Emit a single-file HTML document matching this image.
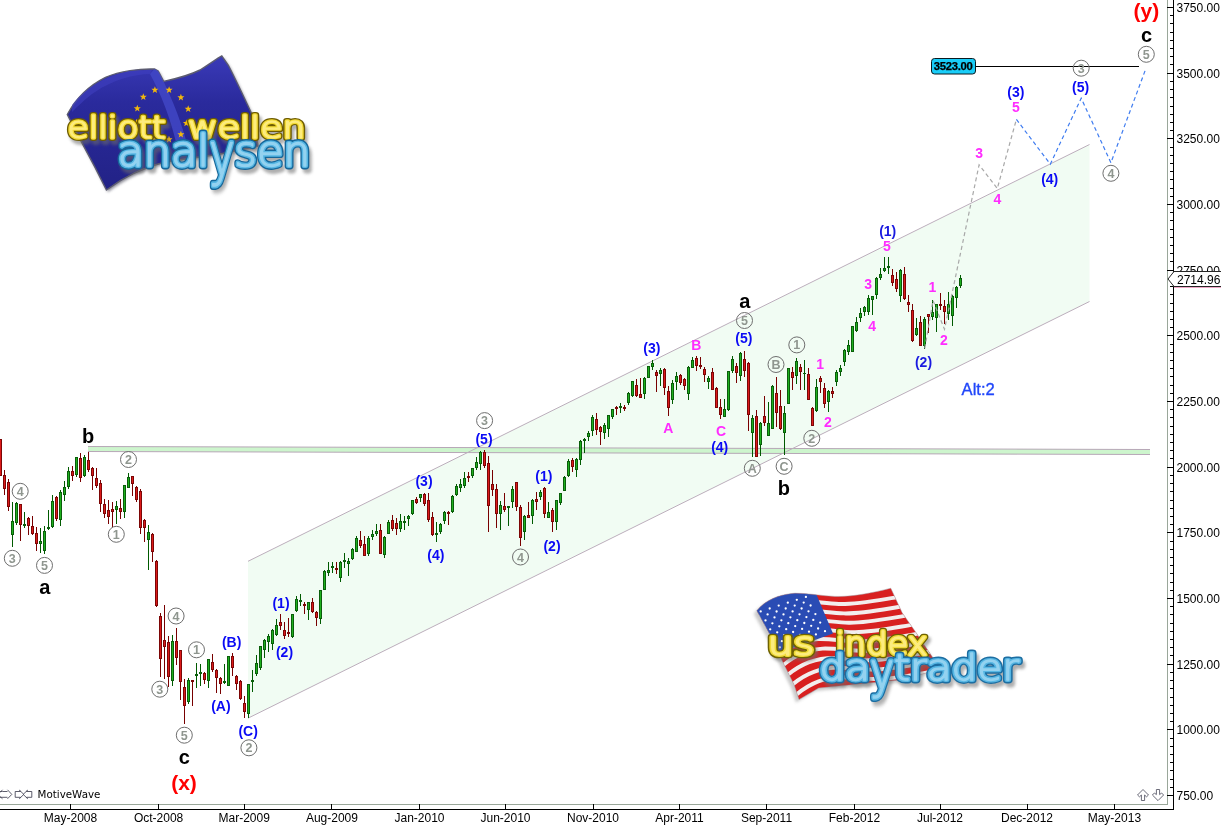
<!DOCTYPE html>
<html><head><meta charset="utf-8"><title>NDX Elliott Wave Chart</title>
<style>html,body{margin:0;padding:0;background:#fff;}body{width:1221px;height:825px;overflow:hidden;}svg{display:block;}</style>
</head><body>
<svg width="1221" height="825" viewBox="0 0 1221 825"><polygon points="248,561.3 1089.5,144.5 1089.5,301.5 248,718.2" fill="#f1fcf3"/>
<polygon points="88,446.5 1150,449.5 1150,454.5 88,451.5" fill="#cdf5cd"/>
<line x1="88" y1="446.5" x2="1150" y2="449.5" stroke="#b7a7b7" stroke-width="1"/>
<line x1="88" y1="451.5" x2="1150" y2="454.5" stroke="#b7a7b7" stroke-width="1"/>
<line x1="248" y1="561.3" x2="1089.5" y2="144.5" stroke="#bcaebc" stroke-width="1"/>
<line x1="248" y1="718.2" x2="1089.5" y2="301.5" stroke="#bcaebc" stroke-width="1"/>
<g shape-rendering="crispEdges"><rect x="0" y="439" width="1" height="37" fill="#780000"/><rect x="-1" y="439" width="3" height="37" fill="#7c0606"/><rect x="0" y="440" width="1" height="35" fill="#dc1a1a"/><rect x="4" y="470" width="1" height="25" fill="#780000"/><rect x="3" y="475" width="3" height="14" fill="#7c0606"/><rect x="4" y="476" width="1" height="12" fill="#dc1a1a"/><rect x="8" y="479" width="1" height="32" fill="#780000"/><rect x="7" y="482" width="3" height="25" fill="#7c0606"/><rect x="8" y="483" width="1" height="23" fill="#dc1a1a"/><rect x="12" y="502" width="1" height="45" fill="#005a00"/><rect x="11" y="521" width="3" height="14" fill="#0a5e0a"/><rect x="12" y="522" width="1" height="12" fill="#1eb01e"/><rect x="16" y="502" width="1" height="23" fill="#005a00"/><rect x="15" y="503" width="3" height="20" fill="#0a5e0a"/><rect x="16" y="504" width="1" height="18" fill="#1eb01e"/><rect x="20" y="504" width="1" height="37" fill="#780000"/><rect x="19" y="504" width="3" height="21" fill="#7c0606"/><rect x="20" y="505" width="1" height="19" fill="#dc1a1a"/><rect x="24" y="512" width="1" height="16" fill="#005a00"/><rect x="23" y="524" width="3" height="2" fill="#0a5e0a"/><rect x="28" y="517" width="1" height="18" fill="#780000"/><rect x="27" y="518" width="3" height="8" fill="#7c0606"/><rect x="28" y="519" width="1" height="6" fill="#dc1a1a"/><rect x="32" y="516" width="1" height="19" fill="#780000"/><rect x="31" y="526" width="3" height="8" fill="#7c0606"/><rect x="32" y="527" width="1" height="6" fill="#dc1a1a"/><rect x="36" y="527" width="1" height="24" fill="#780000"/><rect x="35" y="533" width="3" height="11" fill="#7c0606"/><rect x="36" y="534" width="1" height="9" fill="#dc1a1a"/><rect x="40" y="528" width="1" height="25" fill="#005a00"/><rect x="39" y="541" width="3" height="3" fill="#0a5e0a"/><rect x="40" y="542" width="1" height="1" fill="#1eb01e"/><rect x="44" y="526" width="1" height="28" fill="#005a00"/><rect x="43" y="531" width="3" height="20" fill="#0a5e0a"/><rect x="44" y="532" width="1" height="18" fill="#1eb01e"/><rect x="48" y="510" width="1" height="20" fill="#005a00"/><rect x="47" y="527" width="3" height="2" fill="#0a5e0a"/><rect x="52" y="495" width="1" height="33" fill="#005a00"/><rect x="51" y="501" width="3" height="26" fill="#0a5e0a"/><rect x="52" y="502" width="1" height="24" fill="#1eb01e"/><rect x="56" y="496" width="1" height="25" fill="#780000"/><rect x="55" y="497" width="3" height="22" fill="#7c0606"/><rect x="56" y="498" width="1" height="20" fill="#dc1a1a"/><rect x="60" y="490" width="1" height="36" fill="#005a00"/><rect x="59" y="492" width="3" height="28" fill="#0a5e0a"/><rect x="60" y="493" width="1" height="26" fill="#1eb01e"/><rect x="64" y="481" width="1" height="20" fill="#005a00"/><rect x="63" y="487" width="3" height="8" fill="#0a5e0a"/><rect x="64" y="488" width="1" height="6" fill="#1eb01e"/><rect x="68" y="467" width="1" height="22" fill="#005a00"/><rect x="67" y="471" width="3" height="16" fill="#0a5e0a"/><rect x="68" y="472" width="1" height="14" fill="#1eb01e"/><rect x="72" y="466" width="1" height="15" fill="#780000"/><rect x="71" y="471" width="3" height="5" fill="#7c0606"/><rect x="72" y="472" width="1" height="3" fill="#dc1a1a"/><rect x="76" y="457" width="1" height="20" fill="#005a00"/><rect x="75" y="457" width="3" height="18" fill="#0a5e0a"/><rect x="76" y="458" width="1" height="16" fill="#1eb01e"/><rect x="80" y="453" width="1" height="29" fill="#780000"/><rect x="79" y="458" width="3" height="20" fill="#7c0606"/><rect x="80" y="459" width="1" height="18" fill="#dc1a1a"/><rect x="84" y="455" width="1" height="22" fill="#005a00"/><rect x="83" y="457" width="3" height="19" fill="#0a5e0a"/><rect x="84" y="458" width="1" height="17" fill="#1eb01e"/><rect x="88" y="452" width="1" height="20" fill="#780000"/><rect x="87" y="460" width="3" height="10" fill="#7c0606"/><rect x="88" y="461" width="1" height="8" fill="#dc1a1a"/><rect x="92" y="467" width="1" height="23" fill="#780000"/><rect x="91" y="468" width="3" height="8" fill="#7c0606"/><rect x="92" y="469" width="1" height="6" fill="#dc1a1a"/><rect x="96" y="468" width="1" height="20" fill="#780000"/><rect x="95" y="478" width="3" height="8" fill="#7c0606"/><rect x="96" y="479" width="1" height="6" fill="#dc1a1a"/><rect x="100" y="480" width="1" height="32" fill="#780000"/><rect x="99" y="483" width="3" height="21" fill="#7c0606"/><rect x="100" y="484" width="1" height="19" fill="#dc1a1a"/><rect x="104" y="499" width="1" height="19" fill="#780000"/><rect x="103" y="504" width="3" height="10" fill="#7c0606"/><rect x="104" y="505" width="1" height="8" fill="#dc1a1a"/><rect x="108" y="500" width="1" height="24" fill="#780000"/><rect x="107" y="510" width="3" height="7" fill="#7c0606"/><rect x="108" y="511" width="1" height="5" fill="#dc1a1a"/><rect x="112" y="502" width="1" height="25" fill="#780000"/><rect x="111" y="509" width="3" height="3" fill="#7c0606"/><rect x="112" y="510" width="1" height="1" fill="#dc1a1a"/><rect x="116" y="501" width="1" height="23" fill="#005a00"/><rect x="115" y="506" width="3" height="4" fill="#0a5e0a"/><rect x="116" y="507" width="1" height="2" fill="#1eb01e"/><rect x="120" y="499" width="1" height="20" fill="#780000"/><rect x="119" y="508" width="3" height="4" fill="#7c0606"/><rect x="120" y="509" width="1" height="2" fill="#dc1a1a"/><rect x="124" y="485" width="1" height="33" fill="#005a00"/><rect x="123" y="485" width="3" height="27" fill="#0a5e0a"/><rect x="124" y="486" width="1" height="25" fill="#1eb01e"/><rect x="128" y="473" width="1" height="15" fill="#005a00"/><rect x="127" y="477" width="3" height="11" fill="#0a5e0a"/><rect x="128" y="478" width="1" height="9" fill="#1eb01e"/><rect x="132" y="476" width="1" height="20" fill="#780000"/><rect x="131" y="476" width="3" height="8" fill="#7c0606"/><rect x="132" y="477" width="1" height="6" fill="#dc1a1a"/><rect x="136" y="486" width="1" height="16" fill="#780000"/><rect x="135" y="487" width="3" height="13" fill="#7c0606"/><rect x="136" y="488" width="1" height="11" fill="#dc1a1a"/><rect x="140" y="489" width="1" height="45" fill="#780000"/><rect x="139" y="491" width="3" height="37" fill="#7c0606"/><rect x="140" y="492" width="1" height="35" fill="#dc1a1a"/><rect x="144" y="519" width="1" height="23" fill="#780000"/><rect x="143" y="520" width="3" height="8" fill="#7c0606"/><rect x="144" y="521" width="1" height="6" fill="#dc1a1a"/><rect x="148" y="525" width="1" height="45" fill="#005a00"/><rect x="147" y="532" width="3" height="8" fill="#0a5e0a"/><rect x="148" y="533" width="1" height="6" fill="#1eb01e"/><rect x="152" y="533" width="1" height="29" fill="#780000"/><rect x="151" y="534" width="3" height="18" fill="#7c0606"/><rect x="152" y="535" width="1" height="16" fill="#dc1a1a"/><rect x="156" y="560" width="1" height="47" fill="#780000"/><rect x="155" y="561" width="3" height="45" fill="#7c0606"/><rect x="156" y="562" width="1" height="43" fill="#dc1a1a"/><rect x="160" y="613" width="1" height="64" fill="#780000"/><rect x="159" y="616" width="3" height="43" fill="#7c0606"/><rect x="160" y="617" width="1" height="41" fill="#dc1a1a"/><rect x="164" y="605" width="1" height="74" fill="#780000"/><rect x="163" y="640" width="3" height="7" fill="#7c0606"/><rect x="164" y="641" width="1" height="5" fill="#dc1a1a"/><rect x="168" y="636" width="1" height="51" fill="#780000"/><rect x="167" y="642" width="3" height="35" fill="#7c0606"/><rect x="168" y="643" width="1" height="33" fill="#dc1a1a"/><rect x="172" y="635" width="1" height="51" fill="#005a00"/><rect x="171" y="641" width="3" height="40" fill="#0a5e0a"/><rect x="172" y="642" width="1" height="38" fill="#1eb01e"/><rect x="176" y="628" width="1" height="37" fill="#780000"/><rect x="175" y="641" width="3" height="17" fill="#7c0606"/><rect x="176" y="642" width="1" height="15" fill="#dc1a1a"/><rect x="180" y="650" width="1" height="50" fill="#780000"/><rect x="179" y="650" width="3" height="32" fill="#7c0606"/><rect x="180" y="651" width="1" height="30" fill="#dc1a1a"/><rect x="184" y="679" width="1" height="45" fill="#780000"/><rect x="183" y="687" width="3" height="19" fill="#7c0606"/><rect x="184" y="688" width="1" height="17" fill="#dc1a1a"/><rect x="188" y="678" width="1" height="26" fill="#005a00"/><rect x="187" y="680" width="3" height="22" fill="#0a5e0a"/><rect x="188" y="681" width="1" height="20" fill="#1eb01e"/><rect x="192" y="680" width="1" height="26" fill="#780000"/><rect x="191" y="680" width="3" height="2" fill="#7c0606"/><rect x="196" y="663" width="1" height="25" fill="#005a00"/><rect x="195" y="674" width="3" height="2" fill="#0a5e0a"/><rect x="200" y="664" width="1" height="22" fill="#005a00"/><rect x="199" y="672" width="3" height="2" fill="#0a5e0a"/><rect x="204" y="672" width="1" height="12" fill="#780000"/><rect x="203" y="673" width="3" height="7" fill="#7c0606"/><rect x="204" y="674" width="1" height="5" fill="#dc1a1a"/><rect x="208" y="659" width="1" height="29" fill="#005a00"/><rect x="207" y="659" width="3" height="22" fill="#0a5e0a"/><rect x="208" y="660" width="1" height="20" fill="#1eb01e"/><rect x="212" y="654" width="1" height="18" fill="#780000"/><rect x="211" y="662" width="3" height="8" fill="#7c0606"/><rect x="212" y="663" width="1" height="6" fill="#dc1a1a"/><rect x="216" y="669" width="1" height="24" fill="#780000"/><rect x="215" y="670" width="3" height="8" fill="#7c0606"/><rect x="216" y="671" width="1" height="6" fill="#dc1a1a"/><rect x="220" y="677" width="1" height="17" fill="#780000"/><rect x="219" y="678" width="3" height="6" fill="#7c0606"/><rect x="220" y="679" width="1" height="4" fill="#dc1a1a"/><rect x="224" y="664" width="1" height="20" fill="#005a00"/><rect x="223" y="681" width="3" height="2" fill="#0a5e0a"/><rect x="228" y="656" width="1" height="30" fill="#005a00"/><rect x="227" y="656" width="3" height="30" fill="#0a5e0a"/><rect x="228" y="657" width="1" height="28" fill="#1eb01e"/><rect x="232" y="653" width="1" height="23" fill="#780000"/><rect x="231" y="656" width="3" height="12" fill="#7c0606"/><rect x="232" y="657" width="1" height="10" fill="#dc1a1a"/><rect x="236" y="675" width="1" height="15" fill="#780000"/><rect x="235" y="676" width="3" height="8" fill="#7c0606"/><rect x="236" y="677" width="1" height="6" fill="#dc1a1a"/><rect x="240" y="680" width="1" height="20" fill="#780000"/><rect x="239" y="681" width="3" height="18" fill="#7c0606"/><rect x="240" y="682" width="1" height="16" fill="#dc1a1a"/><rect x="244" y="696" width="1" height="22" fill="#780000"/><rect x="243" y="703" width="3" height="9" fill="#7c0606"/><rect x="244" y="704" width="1" height="7" fill="#dc1a1a"/><rect x="248" y="684" width="1" height="34" fill="#005a00"/><rect x="247" y="684" width="3" height="30" fill="#0a5e0a"/><rect x="248" y="685" width="1" height="28" fill="#1eb01e"/><rect x="252" y="670" width="1" height="22" fill="#005a00"/><rect x="251" y="680" width="3" height="2" fill="#0a5e0a"/><rect x="256" y="655" width="1" height="21" fill="#005a00"/><rect x="255" y="663" width="3" height="11" fill="#0a5e0a"/><rect x="256" y="664" width="1" height="9" fill="#1eb01e"/><rect x="260" y="646" width="1" height="24" fill="#005a00"/><rect x="259" y="646" width="3" height="22" fill="#0a5e0a"/><rect x="260" y="647" width="1" height="20" fill="#1eb01e"/><rect x="264" y="639" width="1" height="19" fill="#005a00"/><rect x="263" y="640" width="3" height="10" fill="#0a5e0a"/><rect x="264" y="641" width="1" height="8" fill="#1eb01e"/><rect x="268" y="634" width="1" height="18" fill="#005a00"/><rect x="267" y="636" width="3" height="6" fill="#0a5e0a"/><rect x="268" y="637" width="1" height="4" fill="#1eb01e"/><rect x="272" y="629" width="1" height="21" fill="#005a00"/><rect x="271" y="630" width="3" height="14" fill="#0a5e0a"/><rect x="272" y="631" width="1" height="12" fill="#1eb01e"/><rect x="276" y="619" width="1" height="17" fill="#005a00"/><rect x="275" y="625" width="3" height="10" fill="#0a5e0a"/><rect x="276" y="626" width="1" height="8" fill="#1eb01e"/><rect x="280" y="614" width="1" height="16" fill="#780000"/><rect x="279" y="622" width="3" height="4" fill="#7c0606"/><rect x="280" y="623" width="1" height="2" fill="#dc1a1a"/><rect x="284" y="622" width="1" height="17" fill="#780000"/><rect x="283" y="630" width="3" height="6" fill="#7c0606"/><rect x="284" y="631" width="1" height="4" fill="#dc1a1a"/><rect x="288" y="618" width="1" height="19" fill="#780000"/><rect x="287" y="632" width="3" height="2" fill="#7c0606"/><rect x="292" y="614" width="1" height="24" fill="#005a00"/><rect x="291" y="614" width="3" height="23" fill="#0a5e0a"/><rect x="292" y="615" width="1" height="21" fill="#1eb01e"/><rect x="296" y="596" width="1" height="16" fill="#005a00"/><rect x="295" y="599" width="3" height="12" fill="#0a5e0a"/><rect x="296" y="600" width="1" height="10" fill="#1eb01e"/><rect x="300" y="594" width="1" height="12" fill="#005a00"/><rect x="299" y="600" width="3" height="2" fill="#0a5e0a"/><rect x="304" y="602" width="1" height="12" fill="#780000"/><rect x="303" y="604" width="3" height="2" fill="#7c0606"/><rect x="308" y="602" width="1" height="18" fill="#005a00"/><rect x="307" y="602" width="3" height="8" fill="#0a5e0a"/><rect x="308" y="603" width="1" height="6" fill="#1eb01e"/><rect x="312" y="598" width="1" height="15" fill="#780000"/><rect x="311" y="602" width="3" height="10" fill="#7c0606"/><rect x="312" y="603" width="1" height="8" fill="#dc1a1a"/><rect x="316" y="611" width="1" height="15" fill="#780000"/><rect x="315" y="612" width="3" height="6" fill="#7c0606"/><rect x="316" y="613" width="1" height="4" fill="#dc1a1a"/><rect x="320" y="590" width="1" height="34" fill="#005a00"/><rect x="319" y="590" width="3" height="29" fill="#0a5e0a"/><rect x="320" y="591" width="1" height="27" fill="#1eb01e"/><rect x="324" y="570" width="1" height="20" fill="#005a00"/><rect x="323" y="571" width="3" height="19" fill="#0a5e0a"/><rect x="324" y="572" width="1" height="17" fill="#1eb01e"/><rect x="328" y="562" width="1" height="14" fill="#005a00"/><rect x="327" y="570" width="3" height="3" fill="#0a5e0a"/><rect x="328" y="571" width="1" height="1" fill="#1eb01e"/><rect x="332" y="562" width="1" height="11" fill="#005a00"/><rect x="331" y="566" width="3" height="2" fill="#0a5e0a"/><rect x="336" y="562" width="1" height="12" fill="#780000"/><rect x="335" y="568" width="3" height="2" fill="#7c0606"/><rect x="340" y="561" width="1" height="21" fill="#005a00"/><rect x="339" y="562" width="3" height="16" fill="#0a5e0a"/><rect x="340" y="563" width="1" height="14" fill="#1eb01e"/><rect x="344" y="553" width="1" height="15" fill="#005a00"/><rect x="343" y="560" width="3" height="2" fill="#0a5e0a"/><rect x="348" y="558" width="1" height="18" fill="#005a00"/><rect x="347" y="561" width="3" height="3" fill="#0a5e0a"/><rect x="348" y="562" width="1" height="1" fill="#1eb01e"/><rect x="352" y="548" width="1" height="12" fill="#005a00"/><rect x="351" y="549" width="3" height="10" fill="#0a5e0a"/><rect x="352" y="550" width="1" height="8" fill="#1eb01e"/><rect x="356" y="536" width="1" height="16" fill="#005a00"/><rect x="355" y="538" width="3" height="14" fill="#0a5e0a"/><rect x="356" y="539" width="1" height="12" fill="#1eb01e"/><rect x="360" y="531" width="1" height="17" fill="#780000"/><rect x="359" y="540" width="3" height="6" fill="#7c0606"/><rect x="360" y="541" width="1" height="4" fill="#dc1a1a"/><rect x="364" y="536" width="1" height="20" fill="#780000"/><rect x="363" y="544" width="3" height="12" fill="#7c0606"/><rect x="364" y="545" width="1" height="10" fill="#dc1a1a"/><rect x="368" y="536" width="1" height="20" fill="#005a00"/><rect x="367" y="538" width="3" height="16" fill="#0a5e0a"/><rect x="368" y="539" width="1" height="14" fill="#1eb01e"/><rect x="372" y="530" width="1" height="10" fill="#005a00"/><rect x="371" y="534" width="3" height="3" fill="#0a5e0a"/><rect x="372" y="535" width="1" height="1" fill="#1eb01e"/><rect x="376" y="524" width="1" height="12" fill="#005a00"/><rect x="375" y="531" width="3" height="3" fill="#0a5e0a"/><rect x="376" y="532" width="1" height="1" fill="#1eb01e"/><rect x="380" y="524" width="1" height="30" fill="#780000"/><rect x="379" y="530" width="3" height="24" fill="#7c0606"/><rect x="380" y="531" width="1" height="22" fill="#dc1a1a"/><rect x="384" y="536" width="1" height="22" fill="#005a00"/><rect x="383" y="537" width="3" height="18" fill="#0a5e0a"/><rect x="384" y="538" width="1" height="16" fill="#1eb01e"/><rect x="388" y="520" width="1" height="14" fill="#005a00"/><rect x="387" y="522" width="3" height="12" fill="#0a5e0a"/><rect x="388" y="523" width="1" height="10" fill="#1eb01e"/><rect x="392" y="515" width="1" height="16" fill="#780000"/><rect x="391" y="520" width="3" height="9" fill="#7c0606"/><rect x="392" y="521" width="1" height="7" fill="#dc1a1a"/><rect x="396" y="518" width="1" height="17" fill="#780000"/><rect x="395" y="523" width="3" height="6" fill="#7c0606"/><rect x="396" y="524" width="1" height="4" fill="#dc1a1a"/><rect x="400" y="514" width="1" height="18" fill="#005a00"/><rect x="399" y="521" width="3" height="8" fill="#0a5e0a"/><rect x="400" y="522" width="1" height="6" fill="#1eb01e"/><rect x="404" y="516" width="1" height="14" fill="#005a00"/><rect x="403" y="521" width="3" height="2" fill="#0a5e0a"/><rect x="408" y="515" width="1" height="11" fill="#005a00"/><rect x="407" y="516" width="3" height="3" fill="#0a5e0a"/><rect x="408" y="517" width="1" height="1" fill="#1eb01e"/><rect x="412" y="500" width="1" height="15" fill="#005a00"/><rect x="411" y="500" width="3" height="14" fill="#0a5e0a"/><rect x="412" y="501" width="1" height="12" fill="#1eb01e"/><rect x="416" y="497" width="1" height="7" fill="#780000"/><rect x="415" y="499" width="3" height="4" fill="#7c0606"/><rect x="416" y="500" width="1" height="2" fill="#dc1a1a"/><rect x="420" y="494" width="1" height="8" fill="#005a00"/><rect x="419" y="494" width="3" height="4" fill="#0a5e0a"/><rect x="420" y="495" width="1" height="2" fill="#1eb01e"/><rect x="424" y="493" width="1" height="13" fill="#780000"/><rect x="423" y="494" width="3" height="10" fill="#7c0606"/><rect x="424" y="495" width="1" height="8" fill="#dc1a1a"/><rect x="428" y="493" width="1" height="29" fill="#780000"/><rect x="427" y="500" width="3" height="20" fill="#7c0606"/><rect x="428" y="501" width="1" height="18" fill="#dc1a1a"/><rect x="432" y="512" width="1" height="24" fill="#780000"/><rect x="431" y="517" width="3" height="18" fill="#7c0606"/><rect x="432" y="518" width="1" height="16" fill="#dc1a1a"/><rect x="436" y="522" width="1" height="20" fill="#005a00"/><rect x="435" y="533" width="3" height="2" fill="#0a5e0a"/><rect x="440" y="523" width="1" height="11" fill="#005a00"/><rect x="439" y="524" width="3" height="8" fill="#0a5e0a"/><rect x="440" y="525" width="1" height="6" fill="#1eb01e"/><rect x="444" y="511" width="1" height="13" fill="#005a00"/><rect x="443" y="512" width="3" height="9" fill="#0a5e0a"/><rect x="444" y="513" width="1" height="7" fill="#1eb01e"/><rect x="448" y="511" width="1" height="14" fill="#780000"/><rect x="447" y="512" width="3" height="2" fill="#7c0606"/><rect x="452" y="495" width="1" height="18" fill="#005a00"/><rect x="451" y="496" width="3" height="16" fill="#0a5e0a"/><rect x="452" y="497" width="1" height="14" fill="#1eb01e"/><rect x="456" y="484" width="1" height="12" fill="#005a00"/><rect x="455" y="486" width="3" height="9" fill="#0a5e0a"/><rect x="456" y="487" width="1" height="7" fill="#1eb01e"/><rect x="460" y="479" width="1" height="13" fill="#005a00"/><rect x="459" y="484" width="3" height="4" fill="#0a5e0a"/><rect x="460" y="485" width="1" height="2" fill="#1eb01e"/><rect x="464" y="472" width="1" height="16" fill="#005a00"/><rect x="463" y="478" width="3" height="8" fill="#0a5e0a"/><rect x="464" y="479" width="1" height="6" fill="#1eb01e"/><rect x="468" y="472" width="1" height="10" fill="#780000"/><rect x="467" y="476" width="3" height="2" fill="#7c0606"/><rect x="472" y="468" width="1" height="10" fill="#005a00"/><rect x="471" y="468" width="3" height="8" fill="#0a5e0a"/><rect x="472" y="469" width="1" height="6" fill="#1eb01e"/><rect x="476" y="457" width="1" height="13" fill="#005a00"/><rect x="475" y="462" width="3" height="6" fill="#0a5e0a"/><rect x="476" y="463" width="1" height="4" fill="#1eb01e"/><rect x="480" y="451" width="1" height="19" fill="#005a00"/><rect x="479" y="452" width="3" height="12" fill="#0a5e0a"/><rect x="480" y="453" width="1" height="10" fill="#1eb01e"/><rect x="484" y="450" width="1" height="18" fill="#780000"/><rect x="483" y="452" width="3" height="14" fill="#7c0606"/><rect x="484" y="453" width="1" height="12" fill="#dc1a1a"/><rect x="488" y="456" width="1" height="76" fill="#780000"/><rect x="487" y="463" width="3" height="43" fill="#7c0606"/><rect x="488" y="464" width="1" height="41" fill="#dc1a1a"/><rect x="492" y="470" width="1" height="26" fill="#780000"/><rect x="491" y="484" width="3" height="6" fill="#7c0606"/><rect x="492" y="485" width="1" height="4" fill="#dc1a1a"/><rect x="496" y="484" width="1" height="44" fill="#780000"/><rect x="495" y="489" width="3" height="25" fill="#7c0606"/><rect x="496" y="490" width="1" height="23" fill="#dc1a1a"/><rect x="500" y="501" width="1" height="29" fill="#005a00"/><rect x="499" y="505" width="3" height="9" fill="#0a5e0a"/><rect x="500" y="506" width="1" height="7" fill="#1eb01e"/><rect x="504" y="493" width="1" height="19" fill="#780000"/><rect x="503" y="506" width="3" height="4" fill="#7c0606"/><rect x="504" y="507" width="1" height="2" fill="#dc1a1a"/><rect x="508" y="506" width="1" height="20" fill="#005a00"/><rect x="507" y="506" width="3" height="2" fill="#0a5e0a"/><rect x="512" y="486" width="1" height="22" fill="#005a00"/><rect x="511" y="489" width="3" height="13" fill="#0a5e0a"/><rect x="512" y="490" width="1" height="11" fill="#1eb01e"/><rect x="516" y="482" width="1" height="29" fill="#780000"/><rect x="515" y="482" width="3" height="25" fill="#7c0606"/><rect x="516" y="483" width="1" height="23" fill="#dc1a1a"/><rect x="520" y="505" width="1" height="41" fill="#780000"/><rect x="519" y="507" width="3" height="31" fill="#7c0606"/><rect x="520" y="508" width="1" height="29" fill="#dc1a1a"/><rect x="524" y="515" width="1" height="25" fill="#005a00"/><rect x="523" y="516" width="3" height="16" fill="#0a5e0a"/><rect x="524" y="517" width="1" height="14" fill="#1eb01e"/><rect x="528" y="502" width="1" height="16" fill="#780000"/><rect x="527" y="515" width="3" height="3" fill="#7c0606"/><rect x="528" y="516" width="1" height="1" fill="#dc1a1a"/><rect x="532" y="499" width="1" height="25" fill="#005a00"/><rect x="531" y="500" width="3" height="16" fill="#0a5e0a"/><rect x="532" y="501" width="1" height="14" fill="#1eb01e"/><rect x="536" y="492" width="1" height="18" fill="#780000"/><rect x="535" y="499" width="3" height="3" fill="#7c0606"/><rect x="536" y="500" width="1" height="1" fill="#dc1a1a"/><rect x="540" y="490" width="1" height="10" fill="#005a00"/><rect x="539" y="492" width="3" height="5" fill="#0a5e0a"/><rect x="540" y="493" width="1" height="3" fill="#1eb01e"/><rect x="544" y="487" width="1" height="31" fill="#780000"/><rect x="543" y="488" width="3" height="26" fill="#7c0606"/><rect x="544" y="489" width="1" height="24" fill="#dc1a1a"/><rect x="548" y="502" width="1" height="16" fill="#005a00"/><rect x="547" y="512" width="3" height="6" fill="#0a5e0a"/><rect x="548" y="513" width="1" height="4" fill="#1eb01e"/><rect x="552" y="508" width="1" height="24" fill="#780000"/><rect x="551" y="510" width="3" height="12" fill="#7c0606"/><rect x="552" y="511" width="1" height="10" fill="#dc1a1a"/><rect x="556" y="500" width="1" height="30" fill="#005a00"/><rect x="555" y="500" width="3" height="22" fill="#0a5e0a"/><rect x="556" y="501" width="1" height="20" fill="#1eb01e"/><rect x="560" y="493" width="1" height="12" fill="#005a00"/><rect x="559" y="493" width="3" height="10" fill="#0a5e0a"/><rect x="560" y="494" width="1" height="8" fill="#1eb01e"/><rect x="564" y="476" width="1" height="15" fill="#005a00"/><rect x="563" y="477" width="3" height="14" fill="#0a5e0a"/><rect x="564" y="478" width="1" height="12" fill="#1eb01e"/><rect x="568" y="459" width="1" height="18" fill="#005a00"/><rect x="567" y="461" width="3" height="15" fill="#0a5e0a"/><rect x="568" y="462" width="1" height="13" fill="#1eb01e"/><rect x="572" y="458" width="1" height="14" fill="#780000"/><rect x="571" y="460" width="3" height="7" fill="#7c0606"/><rect x="572" y="461" width="1" height="5" fill="#dc1a1a"/><rect x="576" y="458" width="1" height="19" fill="#005a00"/><rect x="575" y="459" width="3" height="11" fill="#0a5e0a"/><rect x="576" y="460" width="1" height="9" fill="#1eb01e"/><rect x="580" y="440" width="1" height="25" fill="#005a00"/><rect x="579" y="441" width="3" height="19" fill="#0a5e0a"/><rect x="580" y="442" width="1" height="17" fill="#1eb01e"/><rect x="584" y="438" width="1" height="15" fill="#005a00"/><rect x="583" y="439" width="3" height="2" fill="#0a5e0a"/><rect x="588" y="431" width="1" height="10" fill="#005a00"/><rect x="587" y="433" width="3" height="4" fill="#0a5e0a"/><rect x="588" y="434" width="1" height="2" fill="#1eb01e"/><rect x="592" y="415" width="1" height="21" fill="#005a00"/><rect x="591" y="417" width="3" height="14" fill="#0a5e0a"/><rect x="592" y="418" width="1" height="12" fill="#1eb01e"/><rect x="596" y="413" width="1" height="22" fill="#780000"/><rect x="595" y="419" width="3" height="11" fill="#7c0606"/><rect x="596" y="420" width="1" height="9" fill="#dc1a1a"/><rect x="600" y="426" width="1" height="19" fill="#780000"/><rect x="599" y="427" width="3" height="5" fill="#7c0606"/><rect x="600" y="428" width="1" height="3" fill="#dc1a1a"/><rect x="604" y="423" width="1" height="16" fill="#005a00"/><rect x="603" y="425" width="3" height="8" fill="#0a5e0a"/><rect x="604" y="426" width="1" height="6" fill="#1eb01e"/><rect x="608" y="415" width="1" height="22" fill="#005a00"/><rect x="607" y="415" width="3" height="14" fill="#0a5e0a"/><rect x="608" y="416" width="1" height="12" fill="#1eb01e"/><rect x="612" y="409" width="1" height="10" fill="#005a00"/><rect x="611" y="409" width="3" height="8" fill="#0a5e0a"/><rect x="612" y="410" width="1" height="6" fill="#1eb01e"/><rect x="616" y="406" width="1" height="9" fill="#780000"/><rect x="615" y="407" width="3" height="2" fill="#7c0606"/><rect x="620" y="403" width="1" height="10" fill="#005a00"/><rect x="619" y="406" width="3" height="2" fill="#0a5e0a"/><rect x="624" y="405" width="1" height="6" fill="#780000"/><rect x="623" y="407" width="3" height="2" fill="#7c0606"/><rect x="628" y="392" width="1" height="13" fill="#005a00"/><rect x="627" y="393" width="3" height="10" fill="#0a5e0a"/><rect x="628" y="394" width="1" height="8" fill="#1eb01e"/><rect x="632" y="381" width="1" height="16" fill="#005a00"/><rect x="631" y="381" width="3" height="15" fill="#0a5e0a"/><rect x="632" y="382" width="1" height="13" fill="#1eb01e"/><rect x="636" y="379" width="1" height="18" fill="#780000"/><rect x="635" y="385" width="3" height="11" fill="#7c0606"/><rect x="636" y="386" width="1" height="9" fill="#dc1a1a"/><rect x="640" y="378" width="1" height="20" fill="#780000"/><rect x="639" y="394" width="3" height="4" fill="#7c0606"/><rect x="640" y="395" width="1" height="2" fill="#dc1a1a"/><rect x="644" y="377" width="1" height="22" fill="#005a00"/><rect x="643" y="378" width="3" height="16" fill="#0a5e0a"/><rect x="644" y="379" width="1" height="14" fill="#1eb01e"/><rect x="648" y="366" width="1" height="12" fill="#005a00"/><rect x="647" y="366" width="3" height="12" fill="#0a5e0a"/><rect x="648" y="367" width="1" height="10" fill="#1eb01e"/><rect x="652" y="360" width="1" height="10" fill="#005a00"/><rect x="651" y="363" width="3" height="4" fill="#0a5e0a"/><rect x="652" y="364" width="1" height="2" fill="#1eb01e"/><rect x="656" y="370" width="1" height="22" fill="#780000"/><rect x="655" y="372" width="3" height="4" fill="#7c0606"/><rect x="656" y="373" width="1" height="2" fill="#dc1a1a"/><rect x="660" y="368" width="1" height="18" fill="#005a00"/><rect x="659" y="370" width="3" height="4" fill="#0a5e0a"/><rect x="660" y="371" width="1" height="2" fill="#1eb01e"/><rect x="664" y="368" width="1" height="27" fill="#780000"/><rect x="663" y="369" width="3" height="19" fill="#7c0606"/><rect x="664" y="370" width="1" height="17" fill="#dc1a1a"/><rect x="668" y="386" width="1" height="30" fill="#780000"/><rect x="667" y="391" width="3" height="17" fill="#7c0606"/><rect x="668" y="392" width="1" height="15" fill="#dc1a1a"/><rect x="672" y="380" width="1" height="24" fill="#005a00"/><rect x="671" y="383" width="3" height="17" fill="#0a5e0a"/><rect x="672" y="384" width="1" height="15" fill="#1eb01e"/><rect x="676" y="372" width="1" height="18" fill="#005a00"/><rect x="675" y="376" width="3" height="6" fill="#0a5e0a"/><rect x="676" y="377" width="1" height="4" fill="#1eb01e"/><rect x="680" y="374" width="1" height="11" fill="#780000"/><rect x="679" y="375" width="3" height="8" fill="#7c0606"/><rect x="680" y="376" width="1" height="6" fill="#dc1a1a"/><rect x="684" y="378" width="1" height="12" fill="#780000"/><rect x="683" y="379" width="3" height="7" fill="#7c0606"/><rect x="684" y="380" width="1" height="5" fill="#dc1a1a"/><rect x="688" y="366" width="1" height="34" fill="#005a00"/><rect x="687" y="367" width="3" height="27" fill="#0a5e0a"/><rect x="688" y="368" width="1" height="25" fill="#1eb01e"/><rect x="692" y="357" width="1" height="11" fill="#005a00"/><rect x="691" y="360" width="3" height="8" fill="#0a5e0a"/><rect x="692" y="361" width="1" height="6" fill="#1eb01e"/><rect x="696" y="356" width="1" height="15" fill="#780000"/><rect x="695" y="358" width="3" height="8" fill="#7c0606"/><rect x="696" y="359" width="1" height="6" fill="#dc1a1a"/><rect x="700" y="357" width="1" height="12" fill="#780000"/><rect x="699" y="365" width="3" height="2" fill="#7c0606"/><rect x="704" y="367" width="1" height="15" fill="#780000"/><rect x="703" y="369" width="3" height="6" fill="#7c0606"/><rect x="704" y="370" width="1" height="4" fill="#dc1a1a"/><rect x="708" y="376" width="1" height="13" fill="#005a00"/><rect x="707" y="378" width="3" height="4" fill="#0a5e0a"/><rect x="708" y="379" width="1" height="2" fill="#1eb01e"/><rect x="712" y="368" width="1" height="22" fill="#780000"/><rect x="711" y="372" width="3" height="18" fill="#7c0606"/><rect x="712" y="373" width="1" height="16" fill="#dc1a1a"/><rect x="716" y="387" width="1" height="21" fill="#780000"/><rect x="715" y="388" width="3" height="20" fill="#7c0606"/><rect x="716" y="389" width="1" height="18" fill="#dc1a1a"/><rect x="720" y="399" width="1" height="20" fill="#780000"/><rect x="719" y="407" width="3" height="8" fill="#7c0606"/><rect x="720" y="408" width="1" height="6" fill="#dc1a1a"/><rect x="724" y="399" width="1" height="18" fill="#005a00"/><rect x="723" y="409" width="3" height="8" fill="#0a5e0a"/><rect x="724" y="410" width="1" height="6" fill="#1eb01e"/><rect x="728" y="371" width="1" height="40" fill="#005a00"/><rect x="727" y="371" width="3" height="39" fill="#0a5e0a"/><rect x="728" y="372" width="1" height="37" fill="#1eb01e"/><rect x="732" y="356" width="1" height="17" fill="#005a00"/><rect x="731" y="359" width="3" height="12" fill="#0a5e0a"/><rect x="732" y="360" width="1" height="10" fill="#1eb01e"/><rect x="736" y="363" width="1" height="20" fill="#780000"/><rect x="735" y="366" width="3" height="7" fill="#7c0606"/><rect x="736" y="367" width="1" height="5" fill="#dc1a1a"/><rect x="740" y="352" width="1" height="29" fill="#005a00"/><rect x="739" y="353" width="3" height="23" fill="#0a5e0a"/><rect x="740" y="354" width="1" height="21" fill="#1eb01e"/><rect x="744" y="351" width="1" height="26" fill="#780000"/><rect x="743" y="359" width="3" height="12" fill="#7c0606"/><rect x="744" y="360" width="1" height="10" fill="#dc1a1a"/><rect x="748" y="362" width="1" height="69" fill="#780000"/><rect x="747" y="363" width="3" height="52" fill="#7c0606"/><rect x="748" y="364" width="1" height="50" fill="#dc1a1a"/><rect x="752" y="415" width="1" height="42" fill="#005a00"/><rect x="751" y="418" width="3" height="15" fill="#0a5e0a"/><rect x="752" y="419" width="1" height="13" fill="#1eb01e"/><rect x="756" y="410" width="1" height="47" fill="#780000"/><rect x="755" y="416" width="3" height="41" fill="#7c0606"/><rect x="756" y="417" width="1" height="39" fill="#dc1a1a"/><rect x="760" y="422" width="1" height="34" fill="#005a00"/><rect x="759" y="423" width="3" height="22" fill="#0a5e0a"/><rect x="760" y="424" width="1" height="20" fill="#1eb01e"/><rect x="764" y="396" width="1" height="30" fill="#780000"/><rect x="763" y="416" width="3" height="7" fill="#7c0606"/><rect x="764" y="417" width="1" height="5" fill="#dc1a1a"/><rect x="768" y="402" width="1" height="34" fill="#005a00"/><rect x="767" y="423" width="3" height="13" fill="#0a5e0a"/><rect x="768" y="424" width="1" height="11" fill="#1eb01e"/><rect x="772" y="385" width="1" height="44" fill="#005a00"/><rect x="771" y="386" width="3" height="43" fill="#0a5e0a"/><rect x="772" y="387" width="1" height="41" fill="#1eb01e"/><rect x="776" y="377" width="1" height="50" fill="#780000"/><rect x="775" y="393" width="3" height="20" fill="#7c0606"/><rect x="776" y="394" width="1" height="18" fill="#dc1a1a"/><rect x="780" y="390" width="1" height="40" fill="#780000"/><rect x="779" y="406" width="3" height="23" fill="#7c0606"/><rect x="780" y="407" width="1" height="21" fill="#dc1a1a"/><rect x="784" y="406" width="1" height="49" fill="#005a00"/><rect x="783" y="413" width="3" height="20" fill="#0a5e0a"/><rect x="784" y="414" width="1" height="18" fill="#1eb01e"/><rect x="788" y="368" width="1" height="36" fill="#005a00"/><rect x="787" y="368" width="3" height="36" fill="#0a5e0a"/><rect x="788" y="369" width="1" height="34" fill="#1eb01e"/><rect x="792" y="367" width="1" height="23" fill="#780000"/><rect x="791" y="372" width="3" height="6" fill="#7c0606"/><rect x="792" y="373" width="1" height="4" fill="#dc1a1a"/><rect x="796" y="358" width="1" height="26" fill="#005a00"/><rect x="795" y="361" width="3" height="15" fill="#0a5e0a"/><rect x="796" y="362" width="1" height="13" fill="#1eb01e"/><rect x="800" y="364" width="1" height="26" fill="#780000"/><rect x="799" y="367" width="3" height="5" fill="#7c0606"/><rect x="800" y="368" width="1" height="3" fill="#dc1a1a"/><rect x="804" y="360" width="1" height="30" fill="#005a00"/><rect x="803" y="373" width="3" height="1" fill="#0a5e0a"/><rect x="808" y="368" width="1" height="32" fill="#780000"/><rect x="807" y="374" width="3" height="26" fill="#7c0606"/><rect x="808" y="375" width="1" height="24" fill="#dc1a1a"/><rect x="812" y="407" width="1" height="19" fill="#780000"/><rect x="811" y="408" width="3" height="18" fill="#7c0606"/><rect x="812" y="409" width="1" height="16" fill="#dc1a1a"/><rect x="816" y="379" width="1" height="33" fill="#005a00"/><rect x="815" y="387" width="3" height="24" fill="#0a5e0a"/><rect x="816" y="388" width="1" height="22" fill="#1eb01e"/><rect x="820" y="376" width="1" height="17" fill="#780000"/><rect x="819" y="378" width="3" height="4" fill="#7c0606"/><rect x="820" y="379" width="1" height="2" fill="#dc1a1a"/><rect x="824" y="383" width="1" height="25" fill="#780000"/><rect x="823" y="388" width="3" height="16" fill="#7c0606"/><rect x="824" y="389" width="1" height="14" fill="#dc1a1a"/><rect x="828" y="390" width="1" height="22" fill="#005a00"/><rect x="827" y="391" width="3" height="11" fill="#0a5e0a"/><rect x="828" y="392" width="1" height="9" fill="#1eb01e"/><rect x="832" y="387" width="1" height="11" fill="#780000"/><rect x="831" y="391" width="3" height="3" fill="#7c0606"/><rect x="832" y="392" width="1" height="1" fill="#dc1a1a"/><rect x="836" y="370" width="1" height="16" fill="#005a00"/><rect x="835" y="372" width="3" height="10" fill="#0a5e0a"/><rect x="836" y="373" width="1" height="8" fill="#1eb01e"/><rect x="840" y="365" width="1" height="11" fill="#005a00"/><rect x="839" y="368" width="3" height="4" fill="#0a5e0a"/><rect x="840" y="369" width="1" height="2" fill="#1eb01e"/><rect x="844" y="349" width="1" height="17" fill="#005a00"/><rect x="843" y="350" width="3" height="12" fill="#0a5e0a"/><rect x="844" y="351" width="1" height="10" fill="#1eb01e"/><rect x="848" y="340" width="1" height="15" fill="#005a00"/><rect x="847" y="345" width="3" height="7" fill="#0a5e0a"/><rect x="848" y="346" width="1" height="5" fill="#1eb01e"/><rect x="852" y="326" width="1" height="26" fill="#005a00"/><rect x="851" y="326" width="3" height="26" fill="#0a5e0a"/><rect x="852" y="327" width="1" height="24" fill="#1eb01e"/><rect x="856" y="317" width="1" height="15" fill="#005a00"/><rect x="855" y="322" width="3" height="9" fill="#0a5e0a"/><rect x="856" y="323" width="1" height="7" fill="#1eb01e"/><rect x="860" y="308" width="1" height="14" fill="#005a00"/><rect x="859" y="313" width="3" height="5" fill="#0a5e0a"/><rect x="860" y="314" width="1" height="3" fill="#1eb01e"/><rect x="864" y="306" width="1" height="10" fill="#005a00"/><rect x="863" y="307" width="3" height="5" fill="#0a5e0a"/><rect x="864" y="308" width="1" height="3" fill="#1eb01e"/><rect x="868" y="295" width="1" height="20" fill="#005a00"/><rect x="867" y="298" width="3" height="14" fill="#0a5e0a"/><rect x="868" y="299" width="1" height="12" fill="#1eb01e"/><rect x="872" y="296" width="1" height="19" fill="#005a00"/><rect x="871" y="296" width="3" height="4" fill="#0a5e0a"/><rect x="872" y="297" width="1" height="2" fill="#1eb01e"/><rect x="876" y="277" width="1" height="22" fill="#005a00"/><rect x="875" y="278" width="3" height="17" fill="#0a5e0a"/><rect x="876" y="279" width="1" height="15" fill="#1eb01e"/><rect x="880" y="268" width="1" height="12" fill="#005a00"/><rect x="879" y="274" width="3" height="4" fill="#0a5e0a"/><rect x="880" y="275" width="1" height="2" fill="#1eb01e"/><rect x="884" y="257" width="1" height="15" fill="#005a00"/><rect x="883" y="268" width="3" height="3" fill="#0a5e0a"/><rect x="884" y="269" width="1" height="1" fill="#1eb01e"/><rect x="888" y="257" width="1" height="17" fill="#005a00"/><rect x="887" y="266" width="3" height="2" fill="#0a5e0a"/><rect x="892" y="269" width="1" height="17" fill="#780000"/><rect x="891" y="275" width="3" height="8" fill="#7c0606"/><rect x="892" y="276" width="1" height="6" fill="#dc1a1a"/><rect x="896" y="272" width="1" height="20" fill="#780000"/><rect x="895" y="279" width="3" height="10" fill="#7c0606"/><rect x="896" y="280" width="1" height="8" fill="#dc1a1a"/><rect x="900" y="269" width="1" height="33" fill="#005a00"/><rect x="899" y="270" width="3" height="26" fill="#0a5e0a"/><rect x="900" y="271" width="1" height="24" fill="#1eb01e"/><rect x="904" y="267" width="1" height="33" fill="#780000"/><rect x="903" y="274" width="3" height="25" fill="#7c0606"/><rect x="904" y="275" width="1" height="23" fill="#dc1a1a"/><rect x="908" y="295" width="1" height="17" fill="#780000"/><rect x="907" y="302" width="3" height="3" fill="#7c0606"/><rect x="908" y="303" width="1" height="1" fill="#dc1a1a"/><rect x="912" y="304" width="1" height="38" fill="#780000"/><rect x="911" y="310" width="3" height="31" fill="#7c0606"/><rect x="912" y="311" width="1" height="29" fill="#dc1a1a"/><rect x="916" y="318" width="1" height="18" fill="#005a00"/><rect x="915" y="328" width="3" height="7" fill="#0a5e0a"/><rect x="916" y="329" width="1" height="5" fill="#1eb01e"/><rect x="920" y="316" width="1" height="30" fill="#780000"/><rect x="919" y="322" width="3" height="24" fill="#7c0606"/><rect x="920" y="323" width="1" height="22" fill="#dc1a1a"/><rect x="924" y="317" width="1" height="32" fill="#005a00"/><rect x="923" y="319" width="3" height="27" fill="#0a5e0a"/><rect x="924" y="320" width="1" height="25" fill="#1eb01e"/><rect x="928" y="314" width="1" height="19" fill="#780000"/><rect x="927" y="314" width="3" height="3" fill="#7c0606"/><rect x="928" y="315" width="1" height="1" fill="#dc1a1a"/><rect x="932" y="300" width="1" height="20" fill="#005a00"/><rect x="931" y="312" width="3" height="5" fill="#0a5e0a"/><rect x="932" y="313" width="1" height="3" fill="#1eb01e"/><rect x="936" y="304" width="1" height="28" fill="#005a00"/><rect x="935" y="304" width="3" height="14" fill="#0a5e0a"/><rect x="936" y="305" width="1" height="12" fill="#1eb01e"/><rect x="940" y="293" width="1" height="17" fill="#780000"/><rect x="939" y="304" width="3" height="2" fill="#7c0606"/><rect x="944" y="300" width="1" height="24" fill="#780000"/><rect x="943" y="306" width="3" height="6" fill="#7c0606"/><rect x="944" y="307" width="1" height="4" fill="#dc1a1a"/><rect x="948" y="292" width="1" height="28" fill="#005a00"/><rect x="947" y="304" width="3" height="10" fill="#0a5e0a"/><rect x="948" y="305" width="1" height="8" fill="#1eb01e"/><rect x="952" y="295" width="1" height="31" fill="#005a00"/><rect x="951" y="296" width="3" height="20" fill="#0a5e0a"/><rect x="952" y="297" width="1" height="18" fill="#1eb01e"/><rect x="956" y="286" width="1" height="22" fill="#005a00"/><rect x="955" y="287" width="3" height="11" fill="#0a5e0a"/><rect x="956" y="288" width="1" height="9" fill="#1eb01e"/><rect x="960" y="275" width="1" height="13" fill="#005a00"/><rect x="959" y="278" width="3" height="8" fill="#0a5e0a"/><rect x="960" y="279" width="1" height="6" fill="#1eb01e"/></g>
<polyline points="924.8,348.4 933,300.4 944.5,329.3 979.1,164.8 997.3,188.5 1016.4,119.4" fill="none" stroke="#a8a8a8" stroke-width="1.2" stroke-dasharray="4,3"/>
<polyline points="1016.4,119.4 1050.3,164.2 1081.2,98.2 1110.9,162.7 1145.8,68.8" fill="none" stroke="#3f7cf0" stroke-width="1.2" stroke-dasharray="4,3"/>
<line x1="976" y1="66.5" x2="1139" y2="66.5" stroke="#000" stroke-width="1"/>
<rect x="931.5" y="58.5" width="44" height="15.5" rx="3" ry="3" fill="#19cdf8" stroke="#0a1a20" stroke-width="1"/>
<text x="953.1" y="70.1" font-family="'Liberation Sans', Arial, sans-serif" font-weight="bold" font-size="11.3" text-anchor="middle" fill="#000" stroke="#000" stroke-width="0.25" letter-spacing="-0.3">3523.00</text>
<circle cx="20.2" cy="491.3" r="8" fill="none" stroke="#6e6e6e" stroke-width="1"/>
<text x="20.2" y="495.8" font-family="'Liberation Sans', Arial, sans-serif" font-weight="bold" font-size="12.5" text-anchor="middle" fill="#8f968f">4</text>
<circle cx="12.3" cy="558.3" r="8" fill="none" stroke="#6e6e6e" stroke-width="1"/>
<text x="12.3" y="562.8" font-family="'Liberation Sans', Arial, sans-serif" font-weight="bold" font-size="12.5" text-anchor="middle" fill="#8f968f">3</text>
<circle cx="44.5" cy="565.4" r="8" fill="none" stroke="#6e6e6e" stroke-width="1"/>
<text x="44.5" y="569.9" font-family="'Liberation Sans', Arial, sans-serif" font-weight="bold" font-size="12.5" text-anchor="middle" fill="#8f968f">5</text>
<circle cx="116.3" cy="534.3" r="8" fill="none" stroke="#6e6e6e" stroke-width="1"/>
<text x="116.3" y="538.8" font-family="'Liberation Sans', Arial, sans-serif" font-weight="bold" font-size="12.5" text-anchor="middle" fill="#8f968f">1</text>
<circle cx="128.5" cy="459.5" r="8" fill="none" stroke="#6e6e6e" stroke-width="1"/>
<text x="128.5" y="464.0" font-family="'Liberation Sans', Arial, sans-serif" font-weight="bold" font-size="12.5" text-anchor="middle" fill="#8f968f">2</text>
<circle cx="176.1" cy="616" r="8" fill="none" stroke="#6e6e6e" stroke-width="1"/>
<text x="176.1" y="620.5" font-family="'Liberation Sans', Arial, sans-serif" font-weight="bold" font-size="12.5" text-anchor="middle" fill="#8f968f">4</text>
<circle cx="159.8" cy="689.2" r="8" fill="none" stroke="#6e6e6e" stroke-width="1"/>
<text x="159.8" y="693.7" font-family="'Liberation Sans', Arial, sans-serif" font-weight="bold" font-size="12.5" text-anchor="middle" fill="#8f968f">3</text>
<circle cx="196.5" cy="649.8" r="8" fill="none" stroke="#6e6e6e" stroke-width="1"/>
<text x="196.5" y="654.3" font-family="'Liberation Sans', Arial, sans-serif" font-weight="bold" font-size="12.5" text-anchor="middle" fill="#8f968f">1</text>
<circle cx="184.3" cy="735.2" r="8" fill="none" stroke="#6e6e6e" stroke-width="1"/>
<text x="184.3" y="739.7" font-family="'Liberation Sans', Arial, sans-serif" font-weight="bold" font-size="12.5" text-anchor="middle" fill="#8f968f">5</text>
<circle cx="248.9" cy="747.8" r="8" fill="none" stroke="#6e6e6e" stroke-width="1"/>
<text x="248.9" y="752.3" font-family="'Liberation Sans', Arial, sans-serif" font-weight="bold" font-size="12.5" text-anchor="middle" fill="#8f968f">2</text>
<circle cx="484.6" cy="420.6" r="8" fill="none" stroke="#6e6e6e" stroke-width="1"/>
<text x="484.6" y="425.1" font-family="'Liberation Sans', Arial, sans-serif" font-weight="bold" font-size="12.5" text-anchor="middle" fill="#8f968f">3</text>
<circle cx="520.5" cy="557" r="8" fill="none" stroke="#6e6e6e" stroke-width="1"/>
<text x="520.5" y="561.5" font-family="'Liberation Sans', Arial, sans-serif" font-weight="bold" font-size="12.5" text-anchor="middle" fill="#8f968f">4</text>
<circle cx="744.5" cy="320.5" r="8" fill="none" stroke="#6e6e6e" stroke-width="1"/>
<text x="744.5" y="325.0" font-family="'Liberation Sans', Arial, sans-serif" font-weight="bold" font-size="12.5" text-anchor="middle" fill="#8f968f">5</text>
<circle cx="796.8" cy="344.9" r="8" fill="none" stroke="#6e6e6e" stroke-width="1"/>
<text x="796.8" y="349.4" font-family="'Liberation Sans', Arial, sans-serif" font-weight="bold" font-size="12.5" text-anchor="middle" fill="#8f968f">1</text>
<circle cx="811.8" cy="438.3" r="8" fill="none" stroke="#6e6e6e" stroke-width="1"/>
<text x="811.8" y="442.8" font-family="'Liberation Sans', Arial, sans-serif" font-weight="bold" font-size="12.5" text-anchor="middle" fill="#8f968f">2</text>
<circle cx="752.3" cy="468.3" r="8" fill="none" stroke="#6e6e6e" stroke-width="1"/>
<text x="752.3" y="472.8" font-family="'Liberation Sans', Arial, sans-serif" font-weight="bold" font-size="12.5" text-anchor="middle" fill="#8f968f">A</text>
<circle cx="776" cy="364.5" r="8" fill="none" stroke="#6e6e6e" stroke-width="1"/>
<text x="776" y="369.0" font-family="'Liberation Sans', Arial, sans-serif" font-weight="bold" font-size="12.5" text-anchor="middle" fill="#8f968f">B</text>
<circle cx="784.1" cy="466.3" r="8" fill="none" stroke="#6e6e6e" stroke-width="1"/>
<text x="784.1" y="470.8" font-family="'Liberation Sans', Arial, sans-serif" font-weight="bold" font-size="12.5" text-anchor="middle" fill="#8f968f">C</text>
<circle cx="1081.2" cy="68.2" r="8" fill="none" stroke="#6e6e6e" stroke-width="1"/>
<text x="1081.2" y="72.7" font-family="'Liberation Sans', Arial, sans-serif" font-weight="bold" font-size="12.5" text-anchor="middle" fill="#8f968f">3</text>
<circle cx="1110.9" cy="173.3" r="8" fill="none" stroke="#6e6e6e" stroke-width="1"/>
<text x="1110.9" y="177.8" font-family="'Liberation Sans', Arial, sans-serif" font-weight="bold" font-size="12.5" text-anchor="middle" fill="#8f968f">4</text>
<circle cx="1146.3" cy="54.3" r="8" fill="none" stroke="#6e6e6e" stroke-width="1"/>
<text x="1146.3" y="58.8" font-family="'Liberation Sans', Arial, sans-serif" font-weight="bold" font-size="12.5" text-anchor="middle" fill="#8f968f">5</text>
<text x="231.6" y="647.2" font-family="'Liberation Sans', Arial, sans-serif" font-weight="bold" font-size="14" text-anchor="middle" fill="#0a0af5">(B)</text>
<text x="220.9" y="710.8" font-family="'Liberation Sans', Arial, sans-serif" font-weight="bold" font-size="14" text-anchor="middle" fill="#0a0af5">(A)</text>
<text x="248.1" y="736.2" font-family="'Liberation Sans', Arial, sans-serif" font-weight="bold" font-size="14" text-anchor="middle" fill="#0a0af5">(C)</text>
<text x="281" y="607.5" font-family="'Liberation Sans', Arial, sans-serif" font-weight="bold" font-size="14" text-anchor="middle" fill="#0a0af5">(1)</text>
<text x="284.5" y="657" font-family="'Liberation Sans', Arial, sans-serif" font-weight="bold" font-size="14" text-anchor="middle" fill="#0a0af5">(2)</text>
<text x="424" y="486.1" font-family="'Liberation Sans', Arial, sans-serif" font-weight="bold" font-size="14" text-anchor="middle" fill="#0a0af5">(3)</text>
<text x="435.8" y="560.3" font-family="'Liberation Sans', Arial, sans-serif" font-weight="bold" font-size="14" text-anchor="middle" fill="#0a0af5">(4)</text>
<text x="484" y="444.2" font-family="'Liberation Sans', Arial, sans-serif" font-weight="bold" font-size="14" text-anchor="middle" fill="#0a0af5">(5)</text>
<text x="543.8" y="481.2" font-family="'Liberation Sans', Arial, sans-serif" font-weight="bold" font-size="14" text-anchor="middle" fill="#0a0af5">(1)</text>
<text x="552" y="550.9" font-family="'Liberation Sans', Arial, sans-serif" font-weight="bold" font-size="14" text-anchor="middle" fill="#0a0af5">(2)</text>
<text x="651.8" y="353.2" font-family="'Liberation Sans', Arial, sans-serif" font-weight="bold" font-size="14" text-anchor="middle" fill="#0a0af5">(3)</text>
<text x="719.7" y="451.7" font-family="'Liberation Sans', Arial, sans-serif" font-weight="bold" font-size="14" text-anchor="middle" fill="#0a0af5">(4)</text>
<text x="743.9" y="343.4" font-family="'Liberation Sans', Arial, sans-serif" font-weight="bold" font-size="14" text-anchor="middle" fill="#0a0af5">(5)</text>
<text x="1015.8" y="97.1" font-family="'Liberation Sans', Arial, sans-serif" font-weight="bold" font-size="14" text-anchor="middle" fill="#0a0af5">(3)</text>
<text x="1049.7" y="183.8" font-family="'Liberation Sans', Arial, sans-serif" font-weight="bold" font-size="14" text-anchor="middle" fill="#0a0af5">(4)</text>
<text x="1080.6" y="92" font-family="'Liberation Sans', Arial, sans-serif" font-weight="bold" font-size="14" text-anchor="middle" fill="#0a0af5">(5)</text>
<text x="887.7" y="236.1" font-family="'Liberation Sans', Arial, sans-serif" font-weight="bold" font-size="14" text-anchor="middle" fill="#1a1ae0">(1)</text>
<text x="923.5" y="366.8" font-family="'Liberation Sans', Arial, sans-serif" font-weight="bold" font-size="14" text-anchor="middle" fill="#1a1ae0">(2)</text>
<text x="696.3" y="349.6" font-family="'Liberation Sans', Arial, sans-serif" font-weight="bold" font-size="14" text-anchor="middle" fill="#ff2cff">B</text>
<text x="668.3" y="433.1" font-family="'Liberation Sans', Arial, sans-serif" font-weight="bold" font-size="14" text-anchor="middle" fill="#ff2cff">A</text>
<text x="721" y="435.6" font-family="'Liberation Sans', Arial, sans-serif" font-weight="bold" font-size="14" text-anchor="middle" fill="#ff2cff">C</text>
<text x="887" y="251" font-family="'Liberation Sans', Arial, sans-serif" font-weight="bold" font-size="14" text-anchor="middle" fill="#ff2cff">5</text>
<text x="868.2" y="289" font-family="'Liberation Sans', Arial, sans-serif" font-weight="bold" font-size="14" text-anchor="middle" fill="#ff2cff">3</text>
<text x="872.1" y="331" font-family="'Liberation Sans', Arial, sans-serif" font-weight="bold" font-size="14" text-anchor="middle" fill="#ff2cff">4</text>
<text x="820.2" y="368.9" font-family="'Liberation Sans', Arial, sans-serif" font-weight="bold" font-size="14" text-anchor="middle" fill="#ff2cff">1</text>
<text x="828" y="426.9" font-family="'Liberation Sans', Arial, sans-serif" font-weight="bold" font-size="14" text-anchor="middle" fill="#ff2cff">2</text>
<text x="932.3" y="292.3" font-family="'Liberation Sans', Arial, sans-serif" font-weight="bold" font-size="14" text-anchor="middle" fill="#ff2cff">1</text>
<text x="943.9" y="345" font-family="'Liberation Sans', Arial, sans-serif" font-weight="bold" font-size="14" text-anchor="middle" fill="#ff2cff">2</text>
<text x="979.1" y="157.7" font-family="'Liberation Sans', Arial, sans-serif" font-weight="bold" font-size="14" text-anchor="middle" fill="#ff2cff">3</text>
<text x="997.3" y="204.1" font-family="'Liberation Sans', Arial, sans-serif" font-weight="bold" font-size="14" text-anchor="middle" fill="#ff2cff">4</text>
<text x="1015.8" y="111.7" font-family="'Liberation Sans', Arial, sans-serif" font-weight="bold" font-size="14" text-anchor="middle" fill="#ff2cff">5</text>
<text x="978.2" y="395.2" font-family="'Liberation Sans', Arial, sans-serif" font-size="16.6" text-anchor="middle" fill="#2147fa" stroke="#2147fa" stroke-width="0.35">Alt:2</text>
<text x="44.9" y="594.0" font-family="'Liberation Sans', Arial, sans-serif" font-weight="bold" font-size="20" text-anchor="middle" fill="#000">a</text>
<text x="88" y="442.5" font-family="'Liberation Sans', Arial, sans-serif" font-weight="bold" font-size="20" text-anchor="middle" fill="#000">b</text>
<text x="184.4" y="764.1" font-family="'Liberation Sans', Arial, sans-serif" font-weight="bold" font-size="20" text-anchor="middle" fill="#000">c</text>
<text x="744.8" y="307.9" font-family="'Liberation Sans', Arial, sans-serif" font-weight="bold" font-size="20" text-anchor="middle" fill="#000">a</text>
<text x="783.8" y="495.1" font-family="'Liberation Sans', Arial, sans-serif" font-weight="bold" font-size="20" text-anchor="middle" fill="#000">b</text>
<text x="1146.5" y="42.3" font-family="'Liberation Sans', Arial, sans-serif" font-weight="bold" font-size="20" text-anchor="middle" fill="#000">c</text>
<text x="184" y="790.0" font-family="'Liberation Sans', Arial, sans-serif" font-weight="bold" font-size="21" text-anchor="middle" fill="#ff0000">(x)</text>
<text x="1146.3" y="17.9" font-family="'Liberation Sans', Arial, sans-serif" font-weight="bold" font-size="21" text-anchor="middle" fill="#ff0000">(y)</text>
<g shape-rendering="crispEdges"><line x1="1167.5" y1="0" x2="1167.5" y2="804.5" stroke="#9aa79a" stroke-width="1"/><line x1="0" y1="804.5" x2="1167.5" y2="804.5" stroke="#9aa79a" stroke-width="1"/><line x1="1173.5" y1="0" x2="1173.5" y2="809.5" stroke="#000" stroke-width="1"/><line x1="0" y1="809.5" x2="1174" y2="809.5" stroke="#000" stroke-width="1"/><line x1="1167" y1="7.5" x2="1173" y2="7.5" stroke="#000" stroke-width="1"/><line x1="1170" y1="15.5" x2="1173" y2="15.5" stroke="#000" stroke-width="1"/><line x1="1170" y1="23.5" x2="1173" y2="23.5" stroke="#000" stroke-width="1"/><line x1="1170" y1="32.5" x2="1173" y2="32.5" stroke="#000" stroke-width="1"/><line x1="1170" y1="40.5" x2="1173" y2="40.5" stroke="#000" stroke-width="1"/><line x1="1170" y1="48.5" x2="1173" y2="48.5" stroke="#000" stroke-width="1"/><line x1="1170" y1="56.5" x2="1173" y2="56.5" stroke="#000" stroke-width="1"/><line x1="1170" y1="64.5" x2="1173" y2="64.5" stroke="#000" stroke-width="1"/><line x1="1167" y1="73.5" x2="1173" y2="73.5" stroke="#000" stroke-width="1"/><line x1="1170" y1="81.5" x2="1173" y2="81.5" stroke="#000" stroke-width="1"/><line x1="1170" y1="89.5" x2="1173" y2="89.5" stroke="#000" stroke-width="1"/><line x1="1170" y1="97.5" x2="1173" y2="97.5" stroke="#000" stroke-width="1"/><line x1="1170" y1="106.5" x2="1173" y2="106.5" stroke="#000" stroke-width="1"/><line x1="1170" y1="114.5" x2="1173" y2="114.5" stroke="#000" stroke-width="1"/><line x1="1170" y1="122.5" x2="1173" y2="122.5" stroke="#000" stroke-width="1"/><line x1="1170" y1="130.5" x2="1173" y2="130.5" stroke="#000" stroke-width="1"/><line x1="1167" y1="138.5" x2="1173" y2="138.5" stroke="#000" stroke-width="1"/><line x1="1170" y1="147.5" x2="1173" y2="147.5" stroke="#000" stroke-width="1"/><line x1="1170" y1="155.5" x2="1173" y2="155.5" stroke="#000" stroke-width="1"/><line x1="1170" y1="163.5" x2="1173" y2="163.5" stroke="#000" stroke-width="1"/><line x1="1170" y1="171.5" x2="1173" y2="171.5" stroke="#000" stroke-width="1"/><line x1="1170" y1="179.5" x2="1173" y2="179.5" stroke="#000" stroke-width="1"/><line x1="1170" y1="188.5" x2="1173" y2="188.5" stroke="#000" stroke-width="1"/><line x1="1170" y1="196.5" x2="1173" y2="196.5" stroke="#000" stroke-width="1"/><line x1="1167" y1="204.5" x2="1173" y2="204.5" stroke="#000" stroke-width="1"/><line x1="1170" y1="212.5" x2="1173" y2="212.5" stroke="#000" stroke-width="1"/><line x1="1170" y1="220.5" x2="1173" y2="220.5" stroke="#000" stroke-width="1"/><line x1="1170" y1="229.5" x2="1173" y2="229.5" stroke="#000" stroke-width="1"/><line x1="1170" y1="237.5" x2="1173" y2="237.5" stroke="#000" stroke-width="1"/><line x1="1170" y1="245.5" x2="1173" y2="245.5" stroke="#000" stroke-width="1"/><line x1="1170" y1="253.5" x2="1173" y2="253.5" stroke="#000" stroke-width="1"/><line x1="1170" y1="261.5" x2="1173" y2="261.5" stroke="#000" stroke-width="1"/><line x1="1167" y1="270.5" x2="1173" y2="270.5" stroke="#000" stroke-width="1"/><line x1="1170" y1="278.5" x2="1173" y2="278.5" stroke="#000" stroke-width="1"/><line x1="1170" y1="286.5" x2="1173" y2="286.5" stroke="#000" stroke-width="1"/><line x1="1170" y1="294.5" x2="1173" y2="294.5" stroke="#000" stroke-width="1"/><line x1="1170" y1="303.5" x2="1173" y2="303.5" stroke="#000" stroke-width="1"/><line x1="1170" y1="311.5" x2="1173" y2="311.5" stroke="#000" stroke-width="1"/><line x1="1170" y1="319.5" x2="1173" y2="319.5" stroke="#000" stroke-width="1"/><line x1="1170" y1="327.5" x2="1173" y2="327.5" stroke="#000" stroke-width="1"/><line x1="1167" y1="335.5" x2="1173" y2="335.5" stroke="#000" stroke-width="1"/><line x1="1170" y1="344.5" x2="1173" y2="344.5" stroke="#000" stroke-width="1"/><line x1="1170" y1="352.5" x2="1173" y2="352.5" stroke="#000" stroke-width="1"/><line x1="1170" y1="360.5" x2="1173" y2="360.5" stroke="#000" stroke-width="1"/><line x1="1170" y1="368.5" x2="1173" y2="368.5" stroke="#000" stroke-width="1"/><line x1="1170" y1="376.5" x2="1173" y2="376.5" stroke="#000" stroke-width="1"/><line x1="1170" y1="385.5" x2="1173" y2="385.5" stroke="#000" stroke-width="1"/><line x1="1170" y1="393.5" x2="1173" y2="393.5" stroke="#000" stroke-width="1"/><line x1="1167" y1="401.5" x2="1173" y2="401.5" stroke="#000" stroke-width="1"/><line x1="1170" y1="409.5" x2="1173" y2="409.5" stroke="#000" stroke-width="1"/><line x1="1170" y1="417.5" x2="1173" y2="417.5" stroke="#000" stroke-width="1"/><line x1="1170" y1="426.5" x2="1173" y2="426.5" stroke="#000" stroke-width="1"/><line x1="1170" y1="434.5" x2="1173" y2="434.5" stroke="#000" stroke-width="1"/><line x1="1170" y1="442.5" x2="1173" y2="442.5" stroke="#000" stroke-width="1"/><line x1="1170" y1="450.5" x2="1173" y2="450.5" stroke="#000" stroke-width="1"/><line x1="1170" y1="458.5" x2="1173" y2="458.5" stroke="#000" stroke-width="1"/><line x1="1167" y1="467.5" x2="1173" y2="467.5" stroke="#000" stroke-width="1"/><line x1="1170" y1="475.5" x2="1173" y2="475.5" stroke="#000" stroke-width="1"/><line x1="1170" y1="483.5" x2="1173" y2="483.5" stroke="#000" stroke-width="1"/><line x1="1170" y1="491.5" x2="1173" y2="491.5" stroke="#000" stroke-width="1"/><line x1="1170" y1="500.5" x2="1173" y2="500.5" stroke="#000" stroke-width="1"/><line x1="1170" y1="508.5" x2="1173" y2="508.5" stroke="#000" stroke-width="1"/><line x1="1170" y1="516.5" x2="1173" y2="516.5" stroke="#000" stroke-width="1"/><line x1="1170" y1="524.5" x2="1173" y2="524.5" stroke="#000" stroke-width="1"/><line x1="1167" y1="532.5" x2="1173" y2="532.5" stroke="#000" stroke-width="1"/><line x1="1170" y1="541.5" x2="1173" y2="541.5" stroke="#000" stroke-width="1"/><line x1="1170" y1="549.5" x2="1173" y2="549.5" stroke="#000" stroke-width="1"/><line x1="1170" y1="557.5" x2="1173" y2="557.5" stroke="#000" stroke-width="1"/><line x1="1170" y1="565.5" x2="1173" y2="565.5" stroke="#000" stroke-width="1"/><line x1="1170" y1="573.5" x2="1173" y2="573.5" stroke="#000" stroke-width="1"/><line x1="1170" y1="582.5" x2="1173" y2="582.5" stroke="#000" stroke-width="1"/><line x1="1170" y1="590.5" x2="1173" y2="590.5" stroke="#000" stroke-width="1"/><line x1="1167" y1="598.5" x2="1173" y2="598.5" stroke="#000" stroke-width="1"/><line x1="1170" y1="606.5" x2="1173" y2="606.5" stroke="#000" stroke-width="1"/><line x1="1170" y1="614.5" x2="1173" y2="614.5" stroke="#000" stroke-width="1"/><line x1="1170" y1="623.5" x2="1173" y2="623.5" stroke="#000" stroke-width="1"/><line x1="1170" y1="631.5" x2="1173" y2="631.5" stroke="#000" stroke-width="1"/><line x1="1170" y1="639.5" x2="1173" y2="639.5" stroke="#000" stroke-width="1"/><line x1="1170" y1="647.5" x2="1173" y2="647.5" stroke="#000" stroke-width="1"/><line x1="1170" y1="655.5" x2="1173" y2="655.5" stroke="#000" stroke-width="1"/><line x1="1167" y1="664.5" x2="1173" y2="664.5" stroke="#000" stroke-width="1"/><line x1="1170" y1="672.5" x2="1173" y2="672.5" stroke="#000" stroke-width="1"/><line x1="1170" y1="680.5" x2="1173" y2="680.5" stroke="#000" stroke-width="1"/><line x1="1170" y1="688.5" x2="1173" y2="688.5" stroke="#000" stroke-width="1"/><line x1="1170" y1="697.5" x2="1173" y2="697.5" stroke="#000" stroke-width="1"/><line x1="1170" y1="705.5" x2="1173" y2="705.5" stroke="#000" stroke-width="1"/><line x1="1170" y1="713.5" x2="1173" y2="713.5" stroke="#000" stroke-width="1"/><line x1="1170" y1="721.5" x2="1173" y2="721.5" stroke="#000" stroke-width="1"/><line x1="1167" y1="729.5" x2="1173" y2="729.5" stroke="#000" stroke-width="1"/><line x1="1170" y1="738.5" x2="1173" y2="738.5" stroke="#000" stroke-width="1"/><line x1="1170" y1="746.5" x2="1173" y2="746.5" stroke="#000" stroke-width="1"/><line x1="1170" y1="754.5" x2="1173" y2="754.5" stroke="#000" stroke-width="1"/><line x1="1170" y1="762.5" x2="1173" y2="762.5" stroke="#000" stroke-width="1"/><line x1="1170" y1="770.5" x2="1173" y2="770.5" stroke="#000" stroke-width="1"/><line x1="1170" y1="779.5" x2="1173" y2="779.5" stroke="#000" stroke-width="1"/><line x1="1170" y1="787.5" x2="1173" y2="787.5" stroke="#000" stroke-width="1"/><line x1="1167" y1="795.5" x2="1173" y2="795.5" stroke="#000" stroke-width="1"/><line x1="70.5" y1="804" x2="70.5" y2="809" stroke="#000" stroke-width="1"/><line x1="158.5" y1="804" x2="158.5" y2="809" stroke="#000" stroke-width="1"/><line x1="244.5" y1="804" x2="244.5" y2="809" stroke="#000" stroke-width="1"/><line x1="331.5" y1="804" x2="331.5" y2="809" stroke="#000" stroke-width="1"/><line x1="419.5" y1="804" x2="419.5" y2="809" stroke="#000" stroke-width="1"/><line x1="505.5" y1="804" x2="505.5" y2="809" stroke="#000" stroke-width="1"/><line x1="593.5" y1="804" x2="593.5" y2="809" stroke="#000" stroke-width="1"/><line x1="679.5" y1="804" x2="679.5" y2="809" stroke="#000" stroke-width="1"/><line x1="766.5" y1="804" x2="766.5" y2="809" stroke="#000" stroke-width="1"/><line x1="854.5" y1="804" x2="854.5" y2="809" stroke="#000" stroke-width="1"/><line x1="940.5" y1="804" x2="940.5" y2="809" stroke="#000" stroke-width="1"/><line x1="1027.5" y1="804" x2="1027.5" y2="809" stroke="#000" stroke-width="1"/><line x1="1114.5" y1="804" x2="1114.5" y2="809" stroke="#000" stroke-width="1"/></g>
<text x="1176.5" y="11.9" font-family="'Liberation Sans', Arial, sans-serif" font-size="12" fill="#000">3750.00</text><text x="1176.5" y="77.6" font-family="'Liberation Sans', Arial, sans-serif" font-size="12" fill="#000">3500.00</text><text x="1176.5" y="143.2" font-family="'Liberation Sans', Arial, sans-serif" font-size="12" fill="#000">3250.00</text><text x="1176.5" y="208.9" font-family="'Liberation Sans', Arial, sans-serif" font-size="12" fill="#000">3000.00</text><text x="1176.5" y="274.6" font-family="'Liberation Sans', Arial, sans-serif" font-size="12" fill="#000">2750.00</text><text x="1176.5" y="340.2" font-family="'Liberation Sans', Arial, sans-serif" font-size="12" fill="#000">2500.00</text><text x="1176.5" y="405.9" font-family="'Liberation Sans', Arial, sans-serif" font-size="12" fill="#000">2250.00</text><text x="1176.5" y="471.6" font-family="'Liberation Sans', Arial, sans-serif" font-size="12" fill="#000">2000.00</text><text x="1176.5" y="537.2" font-family="'Liberation Sans', Arial, sans-serif" font-size="12" fill="#000">1750.00</text><text x="1176.5" y="602.9" font-family="'Liberation Sans', Arial, sans-serif" font-size="12" fill="#000">1500.00</text><text x="1176.5" y="668.6" font-family="'Liberation Sans', Arial, sans-serif" font-size="12" fill="#000">1250.00</text><text x="1176.5" y="734.2" font-family="'Liberation Sans', Arial, sans-serif" font-size="12" fill="#000">1000.00</text><text x="1176.5" y="799.9" font-family="'Liberation Sans', Arial, sans-serif" font-size="12" fill="#000">750.00</text><text x="70.5" y="822" font-family="'Liberation Sans', Arial, sans-serif" font-size="12" text-anchor="middle" fill="#000">May-2008</text><text x="158.6" y="822" font-family="'Liberation Sans', Arial, sans-serif" font-size="12" text-anchor="middle" fill="#000">Oct-2008</text><text x="244.2" y="822" font-family="'Liberation Sans', Arial, sans-serif" font-size="12" text-anchor="middle" fill="#000">Mar-2009</text><text x="331.9" y="822" font-family="'Liberation Sans', Arial, sans-serif" font-size="12" text-anchor="middle" fill="#000">Aug-2009</text><text x="419.5" y="822" font-family="'Liberation Sans', Arial, sans-serif" font-size="12" text-anchor="middle" fill="#000">Jan-2010</text><text x="505.5" y="822" font-family="'Liberation Sans', Arial, sans-serif" font-size="12" text-anchor="middle" fill="#000">Jun-2010</text><text x="593" y="822" font-family="'Liberation Sans', Arial, sans-serif" font-size="12" text-anchor="middle" fill="#000">Nov-2010</text><text x="679.5" y="822" font-family="'Liberation Sans', Arial, sans-serif" font-size="12" text-anchor="middle" fill="#000">Apr-2011</text><text x="766.5" y="822" font-family="'Liberation Sans', Arial, sans-serif" font-size="12" text-anchor="middle" fill="#000">Sep-2011</text><text x="854.4" y="822" font-family="'Liberation Sans', Arial, sans-serif" font-size="12" text-anchor="middle" fill="#000">Feb-2012</text><text x="940" y="822" font-family="'Liberation Sans', Arial, sans-serif" font-size="12" text-anchor="middle" fill="#000">Jul-2012</text><text x="1027" y="822" font-family="'Liberation Sans', Arial, sans-serif" font-size="12" text-anchor="middle" fill="#000">Dec-2012</text><text x="1114.4" y="822" font-family="'Liberation Sans', Arial, sans-serif" font-size="12" text-anchor="middle" fill="#000">May-2013</text>
<path d="M1174,271.5 L1221.5,271.5 L1221.5,286.5 L1174,286.5 L1168,279 Z" fill="#fff" stroke="#262626" stroke-width="1"/>
<line x1="1174" y1="287.5" x2="1221" y2="287.5" stroke="#f0a8c8" stroke-width="1"/>
<text x="1177" y="284" font-family="'Liberation Sans', Arial, sans-serif" font-size="12" fill="#000">2714.96</text>
<g fill="none" stroke="#4a4a5a" stroke-width="0.9"><path d="M-1,791.5 L2.5,791.5 M2.5,789.8 L0,792.5 M-1,797.3 L7.5,797.3 M7.5,791.5 L2.5,791.5 M7.5,789.8 L11.8,794.4 L7.5,798.8 M2.5,798.8 L0,796.5"/><path d="M15.2,791.5 L20.5,791.5 L19.5,790.2 L23.8,794.4 L19.5,798.6 L20.5,797.3 L15.2,797.3 Z"/><path d="M31.8,791.5 L26.5,791.5 L27.5,790.2 L23.2,794.4 L27.5,798.6 L26.5,797.3 L31.8,797.3 Z"/></g>
<text x="37.6" y="798" font-family="DejaVu Sans, sans-serif" font-size="10.3" fill="#000">MotiveWave</text>
<g fill="none" stroke="#5a5a6a" stroke-width="0.9"><path d="M1143,789.5 L1148.5,795 L1146.5,796.8 L1144.6,795 L1144.6,800.5 L1141.4,800.5 L1141.4,795 L1139.5,796.8 L1137.5,795 Z"/><path d="M1156.4,789.5 L1159.6,789.5 L1159.6,794.6 L1161.6,793 L1163.6,795 L1158,800.6 L1152.4,795 L1154.4,793 L1156.4,794.6 Z"/></g>
<defs><filter id="sh" x="-10%" y="-20%" width="120%" height="140%"><feGaussianBlur stdDeviation="1.4"/></filter><linearGradient id="eug" x1="0" y1="0" x2="0" y2="1"><stop offset="0" stop-color="#3a3ab8"/><stop offset="0.35" stop-color="#2a2a9c"/><stop offset="1" stop-color="#222286"/></linearGradient></defs><path d="M67.3,114.5 C75,100 88,86 105.5,77.3 C120,71 140,68.5 154.5,69 L158.2,70.9 L163.6,81.4 C175,79 190,75 200,70 C210,64 216,59 221.8,55.9 L228.2,65 C235,78 243,95 251.8,114 L258,146 L220,154 L165,162 C145,167 125,176 106.4,190 L94.5,166.4 L81.8,142.7 Z" fill="#6a6a78" transform="translate(1.5,2)" filter="url(#sh)" opacity="0.8"/><path d="M67.3,114.5 C75,100 88,86 105.5,77.3 C120,71 140,68.5 154.5,69 L158.2,70.9 L163.6,81.4 C175,79 190,75 200,70 C210,64 216,59 221.8,55.9 L228.2,65 C235,78 243,95 251.8,114 L258,146 L220,154 L165,162 C145,167 125,176 106.4,190 L94.5,166.4 L81.8,142.7 Z" fill="url(#eug)" stroke="#5c5c70" stroke-width="1.4"/><path d="M154.5,69 L158.2,70.9 L163.6,81.4 C170,95 178,112 186,140 L176,142 C170,118 162,96 150,74 Z" fill="#4248c8" opacity="0.8"/><path d="M72,105 C85,88 105,76 130,71 C140,70 148,70 152,70 L150,74 C135,74 112,80 95,92 C85,99 78,106 72,112 Z" fill="#4040c0" opacity="0.6"/><polygon points="143.30,93.20 144.21,95.64 146.82,95.76 144.78,97.38 145.47,99.89 143.30,98.45 141.13,99.89 141.82,97.38 139.78,95.76 142.39,95.64" fill="#f2b80c"/><polygon points="154.90,86.30 155.81,88.74 158.42,88.86 156.38,90.48 157.07,92.99 154.90,91.55 152.73,92.99 153.42,90.48 151.38,88.86 153.99,88.74" fill="#f2b80c"/><polygon points="169.10,86.30 170.01,88.74 172.62,88.86 170.58,90.48 171.27,92.99 169.10,91.55 166.93,92.99 167.62,90.48 165.58,88.86 168.19,88.74" fill="#f2b80c"/><polygon points="180.90,93.70 181.81,96.14 184.42,96.26 182.38,97.88 183.07,100.39 180.90,98.95 178.73,100.39 179.42,97.88 177.38,96.26 179.99,96.14" fill="#f2b80c"/><polygon points="188.20,105.30 189.11,107.74 191.72,107.86 189.68,109.48 190.37,111.99 188.20,110.55 186.03,111.99 186.72,109.48 184.68,107.86 187.29,107.74" fill="#f2b80c"/><polygon points="186.40,119.50 187.31,121.94 189.92,122.06 187.88,123.68 188.57,126.19 186.40,124.75 184.23,126.19 184.92,123.68 182.88,122.06 185.49,121.94" fill="#f2b80c"/><polygon points="180.90,130.80 181.81,133.24 184.42,133.36 182.38,134.98 183.07,137.49 180.90,136.05 178.73,137.49 179.42,134.98 177.38,133.36 179.99,133.24" fill="#f2b80c"/><polygon points="137.30,104.80 138.21,107.24 140.82,107.36 138.78,108.98 139.47,111.49 137.30,110.05 135.13,111.49 135.82,108.98 133.78,107.36 136.39,107.24" fill="#f2b80c"/><polygon points="136.50,118.80 137.41,121.24 140.02,121.36 137.98,122.98 138.67,125.49 136.50,124.05 134.33,125.49 135.02,122.98 132.98,121.36 135.59,121.24" fill="#f2b80c"/><polygon points="142.50,129.80 143.41,132.24 146.02,132.36 143.98,133.98 144.67,136.49 142.50,135.05 140.33,136.49 141.02,133.98 138.98,132.36 141.59,132.24" fill="#f2b80c"/><polygon points="154.50,135.80 155.41,138.24 158.02,138.36 155.98,139.98 156.67,142.49 154.50,141.05 152.33,142.49 153.02,139.98 150.98,138.36 153.59,138.24" fill="#f2b80c"/><polygon points="169.00,135.80 169.91,138.24 172.52,138.36 170.48,139.98 171.17,142.49 169.00,141.05 166.83,142.49 167.52,139.98 165.48,138.36 168.09,138.24" fill="#f2b80c"/><text x="67.5" y="138.0" font-family="'DejaVu Sans', 'Liberation Sans', sans-serif" font-weight="200" font-size="30" textLength="98" lengthAdjust="spacingAndGlyphs" stroke-linejoin="round" stroke-linecap="round" fill="#6d6d6d" stroke="#6d6d6d" stroke-width="5.8" opacity="0.55" transform="translate(2.5,3.5)" filter="url(#sh)">elliott</text><text x="67.5" y="138.0" font-family="'DejaVu Sans', 'Liberation Sans', sans-serif" font-weight="200" font-size="30" textLength="98" lengthAdjust="spacingAndGlyphs" stroke-linejoin="round" stroke-linecap="round" fill="#6e5c00" stroke="#6e5c00" stroke-width="5.8">elliott</text><text x="67.5" y="138.0" font-family="'DejaVu Sans', 'Liberation Sans', sans-serif" font-weight="200" font-size="30" textLength="98" lengthAdjust="spacingAndGlyphs" stroke-linejoin="round" stroke-linecap="round" fill="#f2d932" stroke="#f2d932" stroke-width="3.4">elliott</text><text x="67.5" y="138.0" font-family="'DejaVu Sans', 'Liberation Sans', sans-serif" font-weight="200" font-size="30" textLength="98" lengthAdjust="spacingAndGlyphs" stroke-linejoin="round" stroke-linecap="round" fill="#fff08c" stroke="#fff08c" stroke-width="1.1" opacity="0.85">elliott</text><text x="188" y="138.0" font-family="'DejaVu Sans', 'Liberation Sans', sans-serif" font-weight="200" font-size="30" textLength="117.5" lengthAdjust="spacingAndGlyphs" stroke-linejoin="round" stroke-linecap="round" fill="#6d6d6d" stroke="#6d6d6d" stroke-width="5.8" opacity="0.55" transform="translate(2.5,3.5)" filter="url(#sh)">wellen</text><text x="188" y="138.0" font-family="'DejaVu Sans', 'Liberation Sans', sans-serif" font-weight="200" font-size="30" textLength="117.5" lengthAdjust="spacingAndGlyphs" stroke-linejoin="round" stroke-linecap="round" fill="#6e5c00" stroke="#6e5c00" stroke-width="5.8">wellen</text><text x="188" y="138.0" font-family="'DejaVu Sans', 'Liberation Sans', sans-serif" font-weight="200" font-size="30" textLength="117.5" lengthAdjust="spacingAndGlyphs" stroke-linejoin="round" stroke-linecap="round" fill="#f2d932" stroke="#f2d932" stroke-width="3.4">wellen</text><text x="188" y="138.0" font-family="'DejaVu Sans', 'Liberation Sans', sans-serif" font-weight="200" font-size="30" textLength="117.5" lengthAdjust="spacingAndGlyphs" stroke-linejoin="round" stroke-linecap="round" fill="#fff08c" stroke="#fff08c" stroke-width="1.1" opacity="0.85">wellen</text><text x="117.50" y="166.2" font-family="'DejaVu Sans', 'Liberation Sans', sans-serif" font-weight="200" font-size="42" textLength="91.69" lengthAdjust="spacingAndGlyphs" stroke-linejoin="round" stroke-linecap="round" vector-effect="non-scaling-stroke" fill="#6d6d6d" stroke="#6d6d6d" stroke-width="6.8" opacity="0.55" filter="url(#sh)" transform="translate(2.5,3.5)" >anal</text><text x="209.19" y="166.2" font-family="'DejaVu Sans', 'Liberation Sans', sans-serif" font-weight="200" font-size="42" textLength="25.39" lengthAdjust="spacingAndGlyphs" stroke-linejoin="round" stroke-linecap="round" vector-effect="non-scaling-stroke" fill="#6d6d6d" stroke="#6d6d6d" stroke-width="6.8" opacity="0.55" filter="url(#sh)" transform="translate(2.5,3.5) translate(0,143.52) scale(1,1.38) translate(0,-143.52)" >y</text><text x="234.58" y="166.2" font-family="'DejaVu Sans', 'Liberation Sans', sans-serif" font-weight="200" font-size="42" textLength="75.94" lengthAdjust="spacingAndGlyphs" stroke-linejoin="round" stroke-linecap="round" vector-effect="non-scaling-stroke" fill="#6d6d6d" stroke="#6d6d6d" stroke-width="6.8" opacity="0.55" filter="url(#sh)" transform="translate(2.5,3.5)" >sen</text><text x="117.50" y="166.2" font-family="'DejaVu Sans', 'Liberation Sans', sans-serif" font-weight="200" font-size="42" textLength="91.69" lengthAdjust="spacingAndGlyphs" stroke-linejoin="round" stroke-linecap="round" vector-effect="non-scaling-stroke" fill="#16679a" stroke="#16679a" stroke-width="6.8" >anal</text><text x="209.19" y="166.2" font-family="'DejaVu Sans', 'Liberation Sans', sans-serif" font-weight="200" font-size="42" textLength="25.39" lengthAdjust="spacingAndGlyphs" stroke-linejoin="round" stroke-linecap="round" vector-effect="non-scaling-stroke" fill="#16679a" stroke="#16679a" stroke-width="6.8" transform="translate(0,143.52) scale(1,1.38) translate(0,-143.52)" >y</text><text x="234.58" y="166.2" font-family="'DejaVu Sans', 'Liberation Sans', sans-serif" font-weight="200" font-size="42" textLength="75.94" lengthAdjust="spacingAndGlyphs" stroke-linejoin="round" stroke-linecap="round" vector-effect="non-scaling-stroke" fill="#16679a" stroke="#16679a" stroke-width="6.8" >sen</text><text x="117.50" y="166.2" font-family="'DejaVu Sans', 'Liberation Sans', sans-serif" font-weight="200" font-size="42" textLength="91.69" lengthAdjust="spacingAndGlyphs" stroke-linejoin="round" stroke-linecap="round" vector-effect="non-scaling-stroke" fill="#56b6e3" stroke="#56b6e3" stroke-width="4.2" >anal</text><text x="209.19" y="166.2" font-family="'DejaVu Sans', 'Liberation Sans', sans-serif" font-weight="200" font-size="42" textLength="25.39" lengthAdjust="spacingAndGlyphs" stroke-linejoin="round" stroke-linecap="round" vector-effect="non-scaling-stroke" fill="#56b6e3" stroke="#56b6e3" stroke-width="4.2" transform="translate(0,143.52) scale(1,1.38) translate(0,-143.52)" >y</text><text x="234.58" y="166.2" font-family="'DejaVu Sans', 'Liberation Sans', sans-serif" font-weight="200" font-size="42" textLength="75.94" lengthAdjust="spacingAndGlyphs" stroke-linejoin="round" stroke-linecap="round" vector-effect="non-scaling-stroke" fill="#56b6e3" stroke="#56b6e3" stroke-width="4.2" >sen</text><text x="117.50" y="166.2" font-family="'DejaVu Sans', 'Liberation Sans', sans-serif" font-weight="200" font-size="42" textLength="91.69" lengthAdjust="spacingAndGlyphs" stroke-linejoin="round" stroke-linecap="round" vector-effect="non-scaling-stroke" fill="#9fd8f3" stroke="#9fd8f3" stroke-width="1.3" opacity="0.85" >anal</text><text x="209.19" y="166.2" font-family="'DejaVu Sans', 'Liberation Sans', sans-serif" font-weight="200" font-size="42" textLength="25.39" lengthAdjust="spacingAndGlyphs" stroke-linejoin="round" stroke-linecap="round" vector-effect="non-scaling-stroke" fill="#9fd8f3" stroke="#9fd8f3" stroke-width="1.3" opacity="0.85" transform="translate(0,143.52) scale(1,1.38) translate(0,-143.52)" >y</text><text x="234.58" y="166.2" font-family="'DejaVu Sans', 'Liberation Sans', sans-serif" font-weight="200" font-size="42" textLength="75.94" lengthAdjust="spacingAndGlyphs" stroke-linejoin="round" stroke-linecap="round" vector-effect="non-scaling-stroke" fill="#9fd8f3" stroke="#9fd8f3" stroke-width="1.3" opacity="0.85" >sen</text>
<clipPath id="usclip"><path d="M756.8,610.7 C765,600 780,594 795,593.2 C808,593 822,596 835,596.4 C852,597 872,593 890.8,588.2 L902.2,612.8 L917,634 L933.4,658.6 L937,670 L900,680 L818.7,688.1 L799,699.6 L794.1,684.8 L782.7,661.9 L769.6,634 Z"/></clipPath><path d="M756.8,610.7 C765,600 780,594 795,593.2 C808,593 822,596 835,596.4 C852,597 872,593 890.8,588.2 L902.2,612.8 L917,634 L933.4,658.6 L937,670 L900,680 L818.7,688.1 L799,699.6 L794.1,684.8 L782.7,661.9 L769.6,634 Z" fill="#8a8a8a" transform="translate(-3,3)" filter="url(#sh)" opacity="0.45"/><path d="M756.8,610.7 C765,600 780,594 795,593.2 C808,593 822,596 835,596.4 C852,597 872,593 890.8,588.2 L902.2,612.8 L917,634 L933.4,658.6 L937,670 L900,680 L818.7,688.1 L799,699.6 L794.1,684.8 L782.7,661.9 L769.6,634 Z" fill="#d82020"/><g clip-path="url(#usclip)"><path d="M754.5,621.6 C768.8,607.9 783.8,601.8 798.8,601.0 C811.9,600.7 825.9,603.7 838.9,604.0 C856.0,604.6 876.0,600.5 900.9,596.6" fill="none" stroke="#f2eeee" stroke-width="3.9"/><path d="M759.1,631.3 C773.4,617.5 788.5,611.4 803.6,610.5 C816.6,610.2 830.7,613.1 843.8,613.4 C860.9,613.9 881.0,609.7 905.9,605.8" fill="none" stroke="#f2eeee" stroke-width="3.9"/><path d="M763.7,641.0 C778.0,627.2 793.2,621.0 808.3,620.0 C821.4,619.7 835.5,622.5 848.7,622.8 C865.8,623.2 886.0,618.9 911.0,614.9" fill="none" stroke="#f2eeee" stroke-width="3.9"/><path d="M768.4,650.7 C782.7,636.8 797.8,630.6 813.0,629.6 C826.2,629.2 840.4,631.9 853.5,632.1 C870.7,632.5 891.0,628.2 916.0,624.1" fill="none" stroke="#f2eeee" stroke-width="3.9"/><path d="M773.0,660.4 C787.3,646.5 802.5,640.2 817.8,639.1 C831.0,638.6 845.2,641.4 858.4,641.5 C875.6,641.8 896.0,637.4 921.1,633.2" fill="none" stroke="#f2eeee" stroke-width="3.9"/><path d="M777.6,670.1 C791.9,656.2 807.2,649.8 822.5,648.6 C835.7,648.1 850.0,650.8 863.2,650.9 C880.6,651.1 900.9,646.6 926.1,642.3" fill="none" stroke="#f2eeee" stroke-width="3.9"/><path d="M782.2,679.8 C796.5,665.8 811.9,659.4 827.2,658.2 C840.5,657.6 854.8,660.2 868.1,660.3 C885.5,660.4 905.9,655.8 931.1,651.5" fill="none" stroke="#f2eeee" stroke-width="3.9"/><path d="M786.8,689.5 C801.2,675.5 816.6,669.0 831.9,667.7 C845.3,667.1 859.6,669.7 873.0,669.6 C890.4,669.7 910.9,665.0 936.2,660.6" fill="none" stroke="#f2eeee" stroke-width="3.9"/><path d="M791.4,699.2 C805.8,685.2 821.2,678.6 836.7,677.3 C850.0,676.6 864.4,679.1 877.8,679.0 C895.3,679.0 915.9,674.3 941.2,669.8" fill="none" stroke="#f2eeee" stroke-width="3.9"/><polygon points="748,614 760,596 790,584 812,584 833,633.5 776,654" fill="#2a4cb4"/><circle cx="760.7" cy="611.4" r="1.15" fill="#ffffff"/><circle cx="769.7" cy="608.5" r="1.15" fill="#ffffff"/><circle cx="778.7" cy="605.6" r="1.15" fill="#ffffff"/><circle cx="787.8" cy="602.7" r="1.15" fill="#ffffff"/><circle cx="796.8" cy="599.8" r="1.15" fill="#ffffff"/><circle cx="805.9" cy="596.9" r="1.15" fill="#ffffff"/><circle cx="767.6" cy="614.4" r="1.15" fill="#ffffff"/><circle cx="776.6" cy="611.5" r="1.15" fill="#ffffff"/><circle cx="785.7" cy="608.5" r="1.15" fill="#ffffff"/><circle cx="794.7" cy="605.6" r="1.15" fill="#ffffff"/><circle cx="803.7" cy="602.6" r="1.15" fill="#ffffff"/><circle cx="765.5" cy="620.4" r="1.15" fill="#ffffff"/><circle cx="774.5" cy="617.4" r="1.15" fill="#ffffff"/><circle cx="783.5" cy="614.4" r="1.15" fill="#ffffff"/><circle cx="792.6" cy="611.4" r="1.15" fill="#ffffff"/><circle cx="801.6" cy="608.5" r="1.15" fill="#ffffff"/><circle cx="810.6" cy="605.5" r="1.15" fill="#ffffff"/><circle cx="772.4" cy="623.3" r="1.15" fill="#ffffff"/><circle cx="781.4" cy="620.3" r="1.15" fill="#ffffff"/><circle cx="790.4" cy="617.3" r="1.15" fill="#ffffff"/><circle cx="799.5" cy="614.3" r="1.15" fill="#ffffff"/><circle cx="808.5" cy="611.3" r="1.15" fill="#ffffff"/><circle cx="770.2" cy="629.3" r="1.15" fill="#ffffff"/><circle cx="779.3" cy="626.3" r="1.15" fill="#ffffff"/><circle cx="788.3" cy="623.2" r="1.15" fill="#ffffff"/><circle cx="797.3" cy="620.2" r="1.15" fill="#ffffff"/><circle cx="806.4" cy="617.1" r="1.15" fill="#ffffff"/><circle cx="815.4" cy="614.1" r="1.15" fill="#ffffff"/><circle cx="777.2" cy="632.3" r="1.15" fill="#ffffff"/><circle cx="786.2" cy="629.2" r="1.15" fill="#ffffff"/><circle cx="795.2" cy="626.1" r="1.15" fill="#ffffff"/><circle cx="804.3" cy="623.0" r="1.15" fill="#ffffff"/><circle cx="813.3" cy="619.9" r="1.15" fill="#ffffff"/><circle cx="775.0" cy="638.3" r="1.15" fill="#ffffff"/><circle cx="784.1" cy="635.2" r="1.15" fill="#ffffff"/><circle cx="793.1" cy="632.0" r="1.15" fill="#ffffff"/><circle cx="802.1" cy="628.9" r="1.15" fill="#ffffff"/><circle cx="811.2" cy="625.8" r="1.15" fill="#ffffff"/><circle cx="820.2" cy="622.6" r="1.15" fill="#ffffff"/><circle cx="781.9" cy="641.2" r="1.15" fill="#ffffff"/><circle cx="791.0" cy="638.0" r="1.15" fill="#ffffff"/><circle cx="800.0" cy="634.9" r="1.15" fill="#ffffff"/><circle cx="809.0" cy="631.7" r="1.15" fill="#ffffff"/><circle cx="818.1" cy="628.5" r="1.15" fill="#ffffff"/><circle cx="779.8" cy="647.3" r="1.15" fill="#ffffff"/><circle cx="788.9" cy="644.1" r="1.15" fill="#ffffff"/><circle cx="797.9" cy="640.9" r="1.15" fill="#ffffff"/><circle cx="806.9" cy="637.7" r="1.15" fill="#ffffff"/><circle cx="815.9" cy="634.4" r="1.15" fill="#ffffff"/><circle cx="825.0" cy="631.2" r="1.15" fill="#ffffff"/></g><path d="M756.8,610.7 C765,600 780,594 795,593.2 C808,593 822,596 835,596.4 C852,597 872,593 890.8,588.2 L902.2,612.8 L917,634 L933.4,658.6 L937,670 L900,680 L818.7,688.1 L799,699.6 L794.1,684.8 L782.7,661.9 L769.6,634 Z" fill="none" stroke="#a0a0a8" stroke-width="0.8" opacity="0.6"/><text x="767.5" y="654.9" font-family="'DejaVu Sans', 'Liberation Sans', sans-serif" font-weight="200" font-size="32.5" textLength="47" lengthAdjust="spacingAndGlyphs" stroke-linejoin="round" stroke-linecap="round" fill="#6d6d6d" stroke="#6d6d6d" stroke-width="6.6" opacity="0.55" transform="translate(2.5,3.5)" filter="url(#sh)">us</text><text x="767.5" y="654.9" font-family="'DejaVu Sans', 'Liberation Sans', sans-serif" font-weight="200" font-size="32.5" textLength="47" lengthAdjust="spacingAndGlyphs" stroke-linejoin="round" stroke-linecap="round" fill="#6e6200" stroke="#6e6200" stroke-width="6.6">us</text><text x="767.5" y="654.9" font-family="'DejaVu Sans', 'Liberation Sans', sans-serif" font-weight="200" font-size="32.5" textLength="47" lengthAdjust="spacingAndGlyphs" stroke-linejoin="round" stroke-linecap="round" fill="#f0da36" stroke="#f0da36" stroke-width="4.0">us</text><text x="767.5" y="654.9" font-family="'DejaVu Sans', 'Liberation Sans', sans-serif" font-weight="200" font-size="32.5" textLength="47" lengthAdjust="spacingAndGlyphs" stroke-linejoin="round" stroke-linecap="round" fill="#fff08c" stroke="#fff08c" stroke-width="1.3" opacity="0.85">us</text><text x="835.5" y="654.9" font-family="'DejaVu Sans', 'Liberation Sans', sans-serif" font-weight="200" font-size="32" textLength="92" lengthAdjust="spacingAndGlyphs" stroke-linejoin="round" stroke-linecap="round" fill="#6d6d6d" stroke="#6d6d6d" stroke-width="6.4" opacity="0.55" transform="translate(2.5,3.5)" filter="url(#sh)">index</text><text x="835.5" y="654.9" font-family="'DejaVu Sans', 'Liberation Sans', sans-serif" font-weight="200" font-size="32" textLength="92" lengthAdjust="spacingAndGlyphs" stroke-linejoin="round" stroke-linecap="round" fill="#6e6200" stroke="#6e6200" stroke-width="6.4">index</text><text x="835.5" y="654.9" font-family="'DejaVu Sans', 'Liberation Sans', sans-serif" font-weight="200" font-size="32" textLength="92" lengthAdjust="spacingAndGlyphs" stroke-linejoin="round" stroke-linecap="round" fill="#f0da36" stroke="#f0da36" stroke-width="3.9">index</text><text x="835.5" y="654.9" font-family="'DejaVu Sans', 'Liberation Sans', sans-serif" font-weight="200" font-size="32" textLength="92" lengthAdjust="spacingAndGlyphs" stroke-linejoin="round" stroke-linecap="round" fill="#fff08c" stroke="#fff08c" stroke-width="1.3" opacity="0.85">index</text><text x="819.50" y="680.4" font-family="'DejaVu Sans', 'Liberation Sans', sans-serif" font-weight="200" font-size="35" textLength="50.62" lengthAdjust="spacingAndGlyphs" stroke-linejoin="round" stroke-linecap="round" vector-effect="non-scaling-stroke" fill="#6d6d6d" stroke="#6d6d6d" stroke-width="6.8" opacity="0.55" filter="url(#sh)" transform="translate(2.5,3.5)" >da</text><text x="870.12" y="680.4" font-family="'DejaVu Sans', 'Liberation Sans', sans-serif" font-weight="200" font-size="35" textLength="24.02" lengthAdjust="spacingAndGlyphs" stroke-linejoin="round" stroke-linecap="round" vector-effect="non-scaling-stroke" fill="#6d6d6d" stroke="#6d6d6d" stroke-width="6.8" opacity="0.55" filter="url(#sh)" transform="translate(2.5,3.5) translate(0,661.50) scale(1,1.42) translate(0,-661.50)" >y</text><text x="894.14" y="680.4" font-family="'DejaVu Sans', 'Liberation Sans', sans-serif" font-weight="200" font-size="35" textLength="124.86" lengthAdjust="spacingAndGlyphs" stroke-linejoin="round" stroke-linecap="round" vector-effect="non-scaling-stroke" fill="#6d6d6d" stroke="#6d6d6d" stroke-width="6.8" opacity="0.55" filter="url(#sh)" transform="translate(2.5,3.5)" >trader</text><text x="819.50" y="680.4" font-family="'DejaVu Sans', 'Liberation Sans', sans-serif" font-weight="200" font-size="35" textLength="50.62" lengthAdjust="spacingAndGlyphs" stroke-linejoin="round" stroke-linecap="round" vector-effect="non-scaling-stroke" fill="#1c6ea2" stroke="#1c6ea2" stroke-width="6.8" >da</text><text x="870.12" y="680.4" font-family="'DejaVu Sans', 'Liberation Sans', sans-serif" font-weight="200" font-size="35" textLength="24.02" lengthAdjust="spacingAndGlyphs" stroke-linejoin="round" stroke-linecap="round" vector-effect="non-scaling-stroke" fill="#1c6ea2" stroke="#1c6ea2" stroke-width="6.8" transform="translate(0,661.50) scale(1,1.42) translate(0,-661.50)" >y</text><text x="894.14" y="680.4" font-family="'DejaVu Sans', 'Liberation Sans', sans-serif" font-weight="200" font-size="35" textLength="124.86" lengthAdjust="spacingAndGlyphs" stroke-linejoin="round" stroke-linecap="round" vector-effect="non-scaling-stroke" fill="#1c6ea2" stroke="#1c6ea2" stroke-width="6.8" >trader</text><text x="819.50" y="680.4" font-family="'DejaVu Sans', 'Liberation Sans', sans-serif" font-weight="200" font-size="35" textLength="50.62" lengthAdjust="spacingAndGlyphs" stroke-linejoin="round" stroke-linecap="round" vector-effect="non-scaling-stroke" fill="#56b6e3" stroke="#56b6e3" stroke-width="4.2" >da</text><text x="870.12" y="680.4" font-family="'DejaVu Sans', 'Liberation Sans', sans-serif" font-weight="200" font-size="35" textLength="24.02" lengthAdjust="spacingAndGlyphs" stroke-linejoin="round" stroke-linecap="round" vector-effect="non-scaling-stroke" fill="#56b6e3" stroke="#56b6e3" stroke-width="4.2" transform="translate(0,661.50) scale(1,1.42) translate(0,-661.50)" >y</text><text x="894.14" y="680.4" font-family="'DejaVu Sans', 'Liberation Sans', sans-serif" font-weight="200" font-size="35" textLength="124.86" lengthAdjust="spacingAndGlyphs" stroke-linejoin="round" stroke-linecap="round" vector-effect="non-scaling-stroke" fill="#56b6e3" stroke="#56b6e3" stroke-width="4.2" >trader</text><text x="819.50" y="680.4" font-family="'DejaVu Sans', 'Liberation Sans', sans-serif" font-weight="200" font-size="35" textLength="50.62" lengthAdjust="spacingAndGlyphs" stroke-linejoin="round" stroke-linecap="round" vector-effect="non-scaling-stroke" fill="#9fd8f3" stroke="#9fd8f3" stroke-width="1.3" opacity="0.85" >da</text><text x="870.12" y="680.4" font-family="'DejaVu Sans', 'Liberation Sans', sans-serif" font-weight="200" font-size="35" textLength="24.02" lengthAdjust="spacingAndGlyphs" stroke-linejoin="round" stroke-linecap="round" vector-effect="non-scaling-stroke" fill="#9fd8f3" stroke="#9fd8f3" stroke-width="1.3" opacity="0.85" transform="translate(0,661.50) scale(1,1.42) translate(0,-661.50)" >y</text><text x="894.14" y="680.4" font-family="'DejaVu Sans', 'Liberation Sans', sans-serif" font-weight="200" font-size="35" textLength="124.86" lengthAdjust="spacingAndGlyphs" stroke-linejoin="round" stroke-linecap="round" vector-effect="non-scaling-stroke" fill="#9fd8f3" stroke="#9fd8f3" stroke-width="1.3" opacity="0.85" >trader</text></svg>
</body></html>
